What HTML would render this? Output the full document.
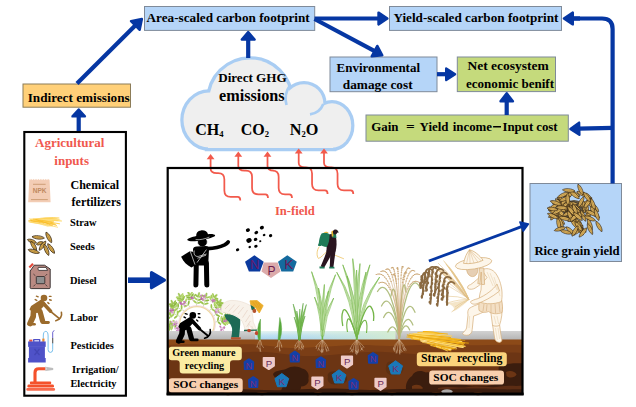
<!DOCTYPE html>
<html>
<head>
<meta charset="utf-8">
<title>Carbon footprint framework</title>
<style>
html,body{margin:0;padding:0;background:#fff;}
body{width:636px;height:407px;overflow:hidden;position:relative;font-family:"Liberation Serif",serif;}
svg{position:absolute;left:0;top:0;display:block;}
text{font-family:"Liberation Serif",serif;font-weight:bold;}
</style>
</head>
<body>
<svg width="636" height="407" viewBox="0 0 636 407">
<g id="boxes" stroke="#7f8a99" stroke-width="1">
<rect x="144.5" y="6.5" width="170.2" height="23.9" fill="#b5d5f8"/>
<rect x="389.5" y="6.5" width="172" height="23.9" fill="#b5d5f8"/>
<rect x="330" y="57" width="107" height="34.7" fill="#b5d5f8"/>
<rect x="457.3" y="57" width="98.2" height="34.6" fill="#c5da7c"/>
<rect x="366" y="115" width="202.3" height="26.2" fill="#c5da7c"/>
<rect x="23" y="84" width="107.5" height="23.2" fill="#ffd079" stroke="#8c7c58"/>
<rect x="530" y="183.5" width="91.5" height="78" fill="#b5d5f8"/>
</g>
<rect x="24.3" y="132" width="101.6" height="263.7" fill="#fff" stroke="#000" stroke-width="2.1"/>
<g id="cloud">
<g fill="#efefef" stroke="#a9cdf3" stroke-width="6.5"><circle cx="250" cy="100" r="40.6"/><ellipse cx="209.3" cy="120" rx="25.8" ry="27.6"/><circle cx="304" cy="103.5" r="19.3"/><ellipse cx="332" cy="125.5" rx="19.2" ry="22.3"/><rect x="208" y="112" width="125" height="36"/></g>
<g fill="#efefef" stroke="none"><circle cx="250" cy="100" r="40.6"/><ellipse cx="209.3" cy="120" rx="25.8" ry="27.6"/><circle cx="304" cy="103.5" r="19.3"/><ellipse cx="332" cy="125.5" rx="19.2" ry="22.3"/><rect x="208" y="112" width="125" height="36"/></g>
<path d="M290.5,84.5 C286.5,90 284.5,98 286.5,105" fill="none" stroke="#a9cdf3" stroke-width="2.7"/>
<path d="M323.3,104 C321,110 316,113.5 310,114.3" fill="none" stroke="#a9cdf3" stroke-width="2.7"/>
</g>
<g id="field">
<rect x="168" y="168" width="354.5" height="226" fill="#fff"/>
<defs><linearGradient id="wg" x1="0" y1="0" x2="0" y2="1"><stop offset="0" stop-color="#eaf6f1"/><stop offset="0.45" stop-color="#c4e3f3"/><stop offset="1" stop-color="#a6d2ef"/></linearGradient><linearGradient id="wh" x1="0" y1="0" x2="1" y2="0"><stop offset="0" stop-color="#a9d3f0" stop-opacity="0"/><stop offset="0.45" stop-color="#c8e6d8" stop-opacity="0.35"/><stop offset="1" stop-color="#d4ecd0" stop-opacity="0.95"/></linearGradient><linearGradient id="gg" x1="0" y1="0" x2="0" y2="1"><stop offset="0" stop-color="#d2d2d2"/><stop offset="1" stop-color="#b4b4b4"/></linearGradient></defs>
<rect x="168" y="331" width="88" height="9" fill="url(#gg)"/>
<rect x="255" y="331" width="141" height="9" fill="url(#wg)"/>
<rect x="255" y="331" width="141" height="9" fill="url(#wh)"/>
<rect x="395.5" y="331" width="127" height="9" fill="url(#gg)"/>
<g id="soil">
<rect x="168" y="339.5" width="354.5" height="55" fill="#8c4a18"/>
<path d="M168,345 C190,343 215,346 240,344.5 C262,343 280,349 300,348 C330,347 350,344 375,345.5 C400,347 420,344 450,345 C480,346 500,344 522.5,345 V394.5 H168 Z" fill="#7b3e16"/>
<path d="M168,352 C200,350 225,354 250,352 C275,350 290,357 315,356 C340,355 360,351 385,352 C410,353 430,357 460,355 C490,353 505,352 522.5,353 V394.5 H168 Z" fill="#6c3514"/>
<path d="M273,374 C276,369.6 283,371 287,368.6 C291,365.6 299,366 302,368.6 C307,369.6 309.6,374 308.4,378.6 C309.6,383 306,386.6 301,386.4 C301.6,390 297,393 292,392 C288,393.6 283,393 281,390.6 C282,388 284,386 283,383 C280,380 274,379 273,374 Z" fill="#3b1d0e"/>
<path d="M168,380.6 C176,378.6 184,381 186.6,385.6 C190,389 186,394.5 180,394.5 H168 Z" fill="#3b1d0e"/>
<path d="M408,394.5 C404,388 406,380 412,376 C414,371 421,369.6 426,372.6 C431,371 436,374 436,379 C441,380 446,384 452,383.6 C460,383 466,386 474,385.6 C482,385 488,386.6 494,384.6 C498,380 499,373 498.6,368 C499,364 504,362.6 508,364 C513,362.6 518,363.6 522.5,363 V394.5 Z" fill="#3b1d0e"/>
<path d="M412,386 C416,383.6 421,384.6 423,388 C421,391.6 415,392 412,389.6 Z" fill="#6c3514"/>
<path d="M438,388 C448,385.6 458,388.6 468,387 C480,385 490,388.6 500,386.6 C508,385 516,386.6 522.5,385.6 V391.6 C510,392.6 500,391 488,392 C470,393 455,391 438,392 Z" fill="#5c2d14"/>
<path d="M506,372 C510,370 515,371 516.6,374.6 C515,378 509,378.6 506.6,376 Z" fill="#6c3514"/>
<path d="M330,372 C336,370 344,372 346,376 C350,380 344,385 338,384 C332,386 326,382 328,377 C327,375 328,373 330,372 Z" fill="#572c12"/>
<path d="M388,362 C394,360 402,362 403,367 C405,372 399,376 393,375 C388,376 385,371 386,367 C386,365 387,363 388,362 Z" fill="#5e3013"/>
<path d="M168,389.5 C185,388 200,391 220,389.5 C240,388 262,391 285,390 C310,389 330,387.5 355,389.5 C380,391 400,388 425,389 C450,390 470,387.5 495,389 C508,389.8 516,389 522.5,389.5 V394.5 H168 Z" fill="#3b1d0e"/>
<ellipse cx="228" cy="393.6" rx="5.0" ry="1.7" fill="#7b3e16"/>
<ellipse cx="262" cy="393.6" rx="6.0" ry="1.7" fill="#7b3e16"/>
<ellipse cx="318" cy="393.6" rx="4.5" ry="1.7" fill="#7b3e16"/>
<ellipse cx="352" cy="393.6" rx="7.0" ry="1.7" fill="#7b3e16"/>
<ellipse cx="392" cy="393.6" rx="5.0" ry="1.7" fill="#7b3e16"/>
<ellipse cx="436" cy="393.6" rx="5.0" ry="1.7" fill="#7b3e16"/>
<ellipse cx="478" cy="393.6" rx="5.0" ry="1.7" fill="#7b3e16"/>
<ellipse cx="447" cy="391.6" rx="5.6" ry="2.4" fill="#b8b8b8" opacity="0.9"/>
</g>
<g id="roots">
<g fill="none" stroke="#dcc0a2" stroke-width="0.45" stroke-linecap="round"><path d="M260.0,339.5 Q258.0,343.7 256.8,347.1"/><path d="M257.4,346.4 l1.3,2.0"/><path d="M260.0,339.5 Q260.0,343.7 260.0,351.3"/><path d="M260.0,348.5 l0.8,3.1"/><path d="M260.0,339.5 Q262.0,343.7 261.7,344.7"/><path d="M261.8,345.2 l1.7,2.4"/></g>
<g fill="none" stroke="#dcc0a2" stroke-width="0.45" stroke-linecap="round"><path d="M279.0,339.5 Q277.0,343.4 277.4,346.9"/><path d="M277.2,346.1 l-2.2,1.7"/><path d="M279.0,339.5 Q279.0,343.4 279.7,351.2"/><path d="M279.3,348.3 l0.8,2.1"/><path d="M279.0,339.5 Q281.0,343.4 281.7,345.9"/><path d="M281.4,345.6 l0.4,1.8"/></g>
<g fill="none" stroke="#dcc0a2" stroke-width="0.45" stroke-linecap="round"><path d="M299.4,339.5 Q296.2,343.4 294.9,345.7"/><path d="M295.5,345.5 l-0.7,2.7"/><path d="M299.4,339.5 Q297.8,343.4 297.7,346.7"/><path d="M297.7,346.0 l-2.4,3.2"/><path d="M299.4,339.5 Q299.4,343.4 298.9,349.7"/><path d="M299.2,347.5 l2.5,2.4"/><path d="M299.4,339.5 Q301.0,343.4 302.1,348.0"/><path d="M301.5,346.7 l0.7,1.8"/><path d="M299.4,339.5 Q302.6,343.4 303.7,346.7"/><path d="M303.1,346.0 l0.1,3.0"/></g>
<g fill="none" stroke="#dcc0a2" stroke-width="0.45" stroke-linecap="round"><path d="M322.4,339.5 Q317.6,344.8 315.9,346.6"/><path d="M316.7,346.7 l-0.5,1.8"/><path d="M322.4,339.5 Q319.5,344.8 317.9,350.2"/><path d="M318.7,348.5 l2.1,3.1"/><path d="M322.4,339.5 Q321.4,344.8 321.7,352.3"/><path d="M321.6,349.5 l0.2,2.1"/><path d="M322.4,339.5 Q323.4,344.8 322.9,352.0"/><path d="M323.2,349.4 l-1.4,3.4"/><path d="M322.4,339.5 Q325.3,344.8 326.7,351.4"/><path d="M326.0,349.1 l1.5,1.9"/><path d="M322.4,339.5 Q327.2,344.8 328.0,348.1"/><path d="M327.6,347.4 l1.2,3.2"/></g>
<g fill="none" stroke="#dcc0a2" stroke-width="0.45" stroke-linecap="round"><path d="M356.8,339.5 Q351.2,345.1 350.0,349.0"/><path d="M350.6,348.1 l1.5,3.4"/><path d="M356.8,339.5 Q353.1,345.1 352.6,352.0"/><path d="M352.8,349.5 l-2.4,2.4"/><path d="M356.8,339.5 Q354.9,345.1 355.4,353.5"/><path d="M355.1,350.3 l2.0,1.7"/><path d="M356.8,339.5 Q356.8,345.1 356.7,354.7"/><path d="M356.8,350.9 l0.2,2.6"/><path d="M356.8,339.5 Q358.7,345.1 358.2,352.3"/><path d="M358.4,349.7 l-1.1,3.3"/><path d="M356.8,339.5 Q360.5,345.1 362.0,349.7"/><path d="M361.3,348.4 l1.5,1.8"/><path d="M356.8,339.5 Q362.4,345.1 364.0,347.2"/><path d="M363.2,347.1 l-2.5,3.2"/></g>
<g fill="none" stroke="#dcc0a2" stroke-width="0.45" stroke-linecap="round"><path d="M399.3,339.5 Q394.1,344.8 393.4,348.7"/><path d="M393.7,347.7 l-0.1,2.0"/><path d="M399.3,339.5 Q395.8,344.8 394.0,350.5"/><path d="M394.9,348.6 l-0.1,3.0"/><path d="M399.3,339.5 Q397.6,344.8 396.9,353.1"/><path d="M397.2,349.9 l-1.1,3.1"/><path d="M399.3,339.5 Q399.3,344.8 399.8,354.2"/><path d="M399.5,350.5 l0.2,2.9"/><path d="M399.3,339.5 Q401.0,344.8 400.9,352.4"/><path d="M400.9,349.6 l1.5,2.0"/><path d="M399.3,339.5 Q402.8,344.8 404.2,350.6"/><path d="M403.5,348.7 l1.7,2.2"/><path d="M399.3,339.5 Q404.5,344.8 405.0,348.7"/><path d="M404.7,347.7 l1.5,2.4"/></g>
</g>
<g id="plants">
<path d="M260.3,340.0 Q260.6,329.5 260.5,319.0 Q255.7,329.3 258.5,340.0 Z" fill="#58ab3c" stroke="#4f9a33" stroke-width="0.4" stroke-linejoin="round"/>
<path d="M279.9,340.0 Q283.5,328.8 279.8,317.4 Q278.5,328.7 278.1,340.0 Z" fill="#58ab3c" stroke="#4f9a33" stroke-width="0.4" stroke-linejoin="round"/>
<path d="M299.9,339.9 Q299.8,321.4 293.2,304.0 Q297.1,321.9 298.9,340.1 Z" fill="#8cc860" stroke="#4f9a33" stroke-width="0.45" stroke-linejoin="round"/>
<path d="M299.9,340.1 Q302.1,322.1 306.4,304.5 Q299.4,321.6 298.9,339.9 Z" fill="#8cc860" stroke="#4f9a33" stroke-width="0.45" stroke-linejoin="round"/>
<path d="M299.8,340.0 Q300.5,325.3 296.8,311.0 Q298.1,325.5 299.0,340.0 Z" fill="#8cc860" stroke="#4f9a33" stroke-width="0.45" stroke-linejoin="round"/>
<path d="M299.9,340.0 Q301.6,321.6 303.2,303.2 Q299.0,321.4 298.9,340.0 Z" fill="#8cc860" stroke="#4f9a33" stroke-width="0.45" stroke-linejoin="round"/>
<path d="M299.8,340.0 Q300.8,324.5 299.8,309.0 Q298.4,324.5 299.0,340.0 Z" fill="#8cc860" stroke="#4f9a33" stroke-width="0.45" stroke-linejoin="round"/>
<path d="M299.8,339.9 Q299.8,327.8 294.2,317.0 Q297.7,328.3 299.0,340.1 Z" fill="#8cc860" stroke="#4f9a33" stroke-width="0.45" stroke-linejoin="round"/>
<path d="M299.8,340.1 Q301.3,327.8 305.0,316.0 Q299.2,327.3 299.0,339.9 Z" fill="#8cc860" stroke="#4f9a33" stroke-width="0.45" stroke-linejoin="round"/>
<path d="M322.4,340 V318" stroke="#74b548" stroke-width="1.6" fill="none"/>
<path d="M322.8,331.9 Q324.5,300.5 311.6,271.7 Q320.0,301.3 321.2,332.1 Z" fill="#e2f1d0" stroke="#74b548" stroke-width="0.55" stroke-linejoin="round"/><path d="M322.0,332.0 Q322.2,300.9 311.6,271.7" fill="none" stroke="#74b548" stroke-width="0.4"/>
<path d="M323.6,332.2 Q326.0,302.7 335.5,274.7 Q321.5,301.7 322.0,331.8 Z" fill="#e2f1d0" stroke="#74b548" stroke-width="0.55" stroke-linejoin="round"/><path d="M322.8,332.0 Q323.8,302.2 335.5,274.7" fill="none" stroke="#74b548" stroke-width="0.4"/>
<path d="M323.0,326.0 Q324.4,305.3 324.4,284.5 Q320.8,305.1 321.8,326.0 Z" fill="#e2f1d0" stroke="#74b548" stroke-width="0.55" stroke-linejoin="round"/><path d="M322.4,326.0 Q322.6,305.2 324.4,284.5" fill="none" stroke="#74b548" stroke-width="0.4"/>
<path d="M322.4,335.9 Q324.2,315.4 314.5,297.0 Q320.9,316.0 321.2,336.1 Z" fill="#e2f1d0" stroke="#74b548" stroke-width="0.55" stroke-linejoin="round"/><path d="M321.8,336.0 Q322.6,315.7 314.5,297.0" fill="none" stroke="#74b548" stroke-width="0.4"/>
<path d="M323.6,336.2 Q325.7,316.2 333.7,298.0 Q322.4,315.3 322.4,335.8 Z" fill="#e2f1d0" stroke="#74b548" stroke-width="0.55" stroke-linejoin="round"/><path d="M323.0,336.0 Q324.0,315.8 333.7,298.0" fill="none" stroke="#74b548" stroke-width="0.4"/>
<path d="M322.7,330.0 Q324.0,308.7 318.5,288.0 Q321.0,308.9 321.7,330.0 Z" fill="#e2f1d0" stroke="#74b548" stroke-width="0.55" stroke-linejoin="round"/><path d="M322.2,330.0 Q322.5,308.8 318.5,288.0" fill="none" stroke="#74b548" stroke-width="0.4"/>
<path d="M323.1,330.1 Q324.9,310.4 328.5,291.0 Q321.9,309.9 322.1,329.9 Z" fill="#e2f1d0" stroke="#74b548" stroke-width="0.55" stroke-linejoin="round"/><path d="M322.6,330.0 Q323.4,310.2 328.5,291.0" fill="none" stroke="#74b548" stroke-width="0.4"/>
<path d="M356.8,340 V312" stroke="#74b548" stroke-width="2" fill="none"/>
<path d="M356.5,329.9 Q357.2,295.8 342.8,264.8 Q353.1,296.6 355.1,330.1 Z" fill="#e2f1d0" stroke="#74b548" stroke-width="0.55" stroke-linejoin="round"/><path d="M355.8,330.0 Q355.2,296.2 342.8,264.8" fill="none" stroke="#74b548" stroke-width="0.4"/>
<path d="M357.1,324.0 Q358.5,291.1 352.7,258.7 Q354.5,291.4 355.7,324.0 Z" fill="#e2f1d0" stroke="#74b548" stroke-width="0.55" stroke-linejoin="round"/><path d="M356.4,324.0 Q356.5,291.2 352.7,258.7" fill="none" stroke="#74b548" stroke-width="0.4"/>
<path d="M357.9,324.0 Q359.1,293.8 360.0,263.6 Q355.1,293.6 356.5,324.0 Z" fill="#e2f1d0" stroke="#74b548" stroke-width="0.55" stroke-linejoin="round"/><path d="M357.2,324.0 Q357.1,293.7 360.0,263.6" fill="none" stroke="#74b548" stroke-width="0.4"/>
<path d="M358.5,330.1 Q361.0,296.9 369.9,264.8 Q356.9,296.1 357.1,329.9 Z" fill="#e2f1d0" stroke="#74b548" stroke-width="0.55" stroke-linejoin="round"/><path d="M357.8,330.0 Q358.9,296.5 369.9,264.8" fill="none" stroke="#74b548" stroke-width="0.4"/>
<path d="M358.6,334.2 Q363.1,303.3 379.7,277.0 Q359.6,302.0 357.4,333.8 Z" fill="#e2f1d0" stroke="#74b548" stroke-width="0.55" stroke-linejoin="round"/><path d="M358.0,334.0 Q361.4,302.7 379.7,277.0" fill="none" stroke="#74b548" stroke-width="0.4"/>
<path d="M356.2,333.8 Q355.6,300.2 336.7,272.2 Q352.0,301.3 355.0,334.2 Z" fill="#e2f1d0" stroke="#74b548" stroke-width="0.55" stroke-linejoin="round"/><path d="M355.6,334.0 Q353.8,300.8 336.7,272.2" fill="none" stroke="#74b548" stroke-width="0.4"/>
<path d="M356.8,327.9 Q356.7,301.1 347.0,276.0 Q353.4,301.7 355.6,328.1 Z" fill="#e2f1d0" stroke="#74b548" stroke-width="0.55" stroke-linejoin="round"/><path d="M356.2,328.0 Q355.0,301.4 347.0,276.0" fill="none" stroke="#74b548" stroke-width="0.4"/>
<path d="M358.0,328.1 Q360.4,299.8 366.0,272.0 Q357.1,299.3 356.8,327.9 Z" fill="#e2f1d0" stroke="#74b548" stroke-width="0.55" stroke-linejoin="round"/><path d="M357.4,328.0 Q358.7,299.5 366.0,272.0" fill="none" stroke="#74b548" stroke-width="0.4"/>
<path d="M357.4,322.0 Q358.3,296.0 356.6,270.0 Q355.1,296.0 356.2,322.0 Z" fill="#e2f1d0" stroke="#74b548" stroke-width="0.55" stroke-linejoin="round"/><path d="M356.8,322.0 Q356.7,296.0 356.6,270.0" fill="none" stroke="#74b548" stroke-width="0.4"/>
<path d="M356.8,338 C350,315 345,306 343,311 C341,316 342,322 342.8,326" fill="none" stroke="#74b548" stroke-width="1.3"/>
<path d="M356.8,338 C362,314 368,303 371,307 C374,311 374,317 373.5,321" fill="none" stroke="#74b548" stroke-width="1.3"/>
<path d="M356.8,338 C352,322 349,316 347.5,320 C346,324 347,329 347.5,332" fill="none" stroke="#74b548" stroke-width="1.1"/>
<path d="M356.8,338 C360,324 364,318 366,321 C367.5,324 367,329 366.5,333" fill="none" stroke="#74b548" stroke-width="1.1"/>
<path d="M399.3,339 C397.2,318.1 389.5,289.5 381.5,306" fill="none" stroke="#b2bf82" stroke-width="1.3" stroke-linecap="round"/>
<path d="M399.3,339 C397.4,324.2 390.7,302.5 383.6,317.5" fill="none" stroke="#b2bf82" stroke-width="1.3" stroke-linecap="round"/>
<path d="M399.3,339 C397.9,332.3 393.0,320.0 387.8,332" fill="none" stroke="#b2bf82" stroke-width="1.3" stroke-linecap="round"/>
<path d="M399.3,339 C401.2,320.8 407.9,294.3 415,312.3" fill="none" stroke="#b2bf82" stroke-width="1.3" stroke-linecap="round"/>
<path d="M399.3,339 C400.9,328.0 406.8,310.0 412.9,325" fill="none" stroke="#b2bf82" stroke-width="1.3" stroke-linecap="round"/>
<path d="M399.3,339 C400.5,331.7 405.0,319.5 409.7,330" fill="none" stroke="#b2bf82" stroke-width="1.3" stroke-linecap="round"/>
<path d="M399.3,339 C398.3,311.5 394.7,273.5 391,296" fill="none" stroke="#b2bf82" stroke-width="1.3" stroke-linecap="round"/>
<path d="M399.3,339 C400.1,309.1 403.0,268.0 406,292" fill="none" stroke="#b2bf82" stroke-width="1.3" stroke-linecap="round"/>
<path d="M399.3,339 C396.7,310.9 387.3,275.0 377.5,291.5" fill="none" stroke="#b2bf82" stroke-width="1.3" stroke-linecap="round"/>
<path d="M399.3,339 C401.8,308.4 410.7,269.5 420,287.5" fill="none" stroke="#b2bf82" stroke-width="1.3" stroke-linecap="round"/>
<path d="M399.3,339 C399.2,305.0 398.4,261.5 397.2,268.4" fill="none" stroke="#cba776" stroke-width="0.55"/>
<ellipse cx="398.4" cy="279.1" rx="0.8" ry="0.5" fill="#cba776"/>
<ellipse cx="398.2" cy="276.0" rx="0.8" ry="0.5" fill="#cba776"/>
<ellipse cx="398.1" cy="273.4" rx="0.8" ry="0.5" fill="#cba776"/>
<ellipse cx="398.0" cy="271.2" rx="0.8" ry="0.5" fill="#cba776"/>
<ellipse cx="397.8" cy="269.5" rx="0.8" ry="0.5" fill="#cba776"/>
<ellipse cx="397.7" cy="268.3" rx="0.8" ry="0.5" fill="#cba776"/>
<ellipse cx="397.5" cy="267.7" rx="0.8" ry="0.5" fill="#cba776"/>
<ellipse cx="397.4" cy="267.8" rx="0.8" ry="0.5" fill="#cba776"/>
<ellipse cx="397.2" cy="268.4" rx="0.8" ry="0.5" fill="#cba776"/>
<path d="M399.3,339 C399.8,305.0 404.0,262.1 409.7,268.6" fill="none" stroke="#cba776" stroke-width="0.55"/>
<ellipse cx="404.0" cy="279.4" rx="0.8" ry="0.5" fill="#cba776"/>
<ellipse cx="404.6" cy="276.4" rx="0.8" ry="0.5" fill="#cba776"/>
<ellipse cx="405.2" cy="273.7" rx="0.8" ry="0.5" fill="#cba776"/>
<ellipse cx="405.9" cy="271.6" rx="0.8" ry="0.5" fill="#cba776"/>
<ellipse cx="406.6" cy="269.9" rx="0.8" ry="0.5" fill="#cba776"/>
<ellipse cx="407.4" cy="268.7" rx="0.8" ry="0.5" fill="#cba776"/>
<ellipse cx="408.1" cy="268.0" rx="0.8" ry="0.5" fill="#cba776"/>
<ellipse cx="408.9" cy="268.0" rx="0.8" ry="0.5" fill="#cba776"/>
<ellipse cx="409.7" cy="268.6" rx="0.8" ry="0.5" fill="#cba776"/>
<path d="M399.3,339 C400.3,305.0 408.3,268.6 419.2,274.6" fill="none" stroke="#cba776" stroke-width="0.55"/>
<ellipse cx="408.2" cy="283.7" rx="0.8" ry="0.5" fill="#cba776"/>
<ellipse cx="409.4" cy="281.0" rx="0.8" ry="0.5" fill="#cba776"/>
<ellipse cx="410.7" cy="278.8" rx="0.8" ry="0.5" fill="#cba776"/>
<ellipse cx="412.0" cy="276.9" rx="0.8" ry="0.5" fill="#cba776"/>
<ellipse cx="413.3" cy="275.5" rx="0.8" ry="0.5" fill="#cba776"/>
<ellipse cx="414.7" cy="274.5" rx="0.8" ry="0.5" fill="#cba776"/>
<ellipse cx="416.2" cy="274.0" rx="0.8" ry="0.5" fill="#cba776"/>
<ellipse cx="417.7" cy="274.0" rx="0.8" ry="0.5" fill="#cba776"/>
<ellipse cx="419.2" cy="274.6" rx="0.8" ry="0.5" fill="#cba776"/>
<path d="M399.3,339 C398.2,305.0 388.9,268.8 376.3,274.6" fill="none" stroke="#cba776" stroke-width="0.55"/>
<ellipse cx="389.0" cy="283.7" rx="0.8" ry="0.5" fill="#cba776"/>
<ellipse cx="387.6" cy="281.1" rx="0.8" ry="0.5" fill="#cba776"/>
<ellipse cx="386.2" cy="278.8" rx="0.8" ry="0.5" fill="#cba776"/>
<ellipse cx="384.7" cy="277.0" rx="0.8" ry="0.5" fill="#cba776"/>
<ellipse cx="383.1" cy="275.5" rx="0.8" ry="0.5" fill="#cba776"/>
<ellipse cx="381.5" cy="274.5" rx="0.8" ry="0.5" fill="#cba776"/>
<ellipse cx="379.8" cy="274.0" rx="0.8" ry="0.5" fill="#cba776"/>
<ellipse cx="378.1" cy="274.0" rx="0.8" ry="0.5" fill="#cba776"/>
<ellipse cx="376.3" cy="274.6" rx="0.8" ry="0.5" fill="#cba776"/>
<path d="M399.3,339 C398.6,305.0 393.3,263.2 386,269.5" fill="none" stroke="#cba776" stroke-width="0.55"/>
<ellipse cx="393.3" cy="280.1" rx="0.8" ry="0.5" fill="#cba776"/>
<ellipse cx="392.5" cy="277.1" rx="0.8" ry="0.5" fill="#cba776"/>
<ellipse cx="391.7" cy="274.5" rx="0.8" ry="0.5" fill="#cba776"/>
<ellipse cx="390.8" cy="272.4" rx="0.8" ry="0.5" fill="#cba776"/>
<ellipse cx="389.9" cy="270.7" rx="0.8" ry="0.5" fill="#cba776"/>
<ellipse cx="389.0" cy="269.6" rx="0.8" ry="0.5" fill="#cba776"/>
<ellipse cx="388.0" cy="269.0" rx="0.8" ry="0.5" fill="#cba776"/>
<ellipse cx="387.0" cy="268.9" rx="0.8" ry="0.5" fill="#cba776"/>
<ellipse cx="386.0" cy="269.5" rx="0.8" ry="0.5" fill="#cba776"/>
<path d="M399.3,339 C399.5,305.0 401.0,260.2 403,267" fill="none" stroke="#cba776" stroke-width="0.55"/>
<ellipse cx="401.0" cy="278.2" rx="0.8" ry="0.5" fill="#cba776"/>
<ellipse cx="401.2" cy="275.0" rx="0.8" ry="0.5" fill="#cba776"/>
<ellipse cx="401.4" cy="272.3" rx="0.8" ry="0.5" fill="#cba776"/>
<ellipse cx="401.7" cy="270.0" rx="0.8" ry="0.5" fill="#cba776"/>
<ellipse cx="401.9" cy="268.3" rx="0.8" ry="0.5" fill="#cba776"/>
<ellipse cx="402.2" cy="267.1" rx="0.8" ry="0.5" fill="#cba776"/>
<ellipse cx="402.4" cy="266.4" rx="0.8" ry="0.5" fill="#cba776"/>
<ellipse cx="402.7" cy="266.4" rx="0.8" ry="0.5" fill="#cba776"/>
<ellipse cx="403.0" cy="267.0" rx="0.8" ry="0.5" fill="#cba776"/>
<path d="M399.3,339 C398.9,305.0 395.8,261.4 391.5,268" fill="none" stroke="#cba776" stroke-width="0.55"/>
<ellipse cx="395.8" cy="278.9" rx="0.8" ry="0.5" fill="#cba776"/>
<ellipse cx="395.3" cy="275.9" rx="0.8" ry="0.5" fill="#cba776"/>
<ellipse cx="394.8" cy="273.2" rx="0.8" ry="0.5" fill="#cba776"/>
<ellipse cx="394.3" cy="271.0" rx="0.8" ry="0.5" fill="#cba776"/>
<ellipse cx="393.8" cy="269.3" rx="0.8" ry="0.5" fill="#cba776"/>
<ellipse cx="393.3" cy="268.1" rx="0.8" ry="0.5" fill="#cba776"/>
<ellipse cx="392.7" cy="267.4" rx="0.8" ry="0.5" fill="#cba776"/>
<ellipse cx="392.1" cy="267.4" rx="0.8" ry="0.5" fill="#cba776"/>
<ellipse cx="391.5" cy="268.0" rx="0.8" ry="0.5" fill="#cba776"/>
<path d="M399.3,339 C400.1,305.0 406.1,264.8 414.5,271" fill="none" stroke="#cba776" stroke-width="0.55"/>
<ellipse cx="406.1" cy="281.1" rx="0.8" ry="0.5" fill="#cba776"/>
<ellipse cx="407.0" cy="278.3" rx="0.8" ry="0.5" fill="#cba776"/>
<ellipse cx="408.0" cy="275.8" rx="0.8" ry="0.5" fill="#cba776"/>
<ellipse cx="409.0" cy="273.7" rx="0.8" ry="0.5" fill="#cba776"/>
<ellipse cx="410.0" cy="272.1" rx="0.8" ry="0.5" fill="#cba776"/>
<ellipse cx="411.1" cy="271.0" rx="0.8" ry="0.5" fill="#cba776"/>
<ellipse cx="412.2" cy="270.4" rx="0.8" ry="0.5" fill="#cba776"/>
<ellipse cx="413.3" cy="270.4" rx="0.8" ry="0.5" fill="#cba776"/>
<ellipse cx="414.5" cy="271.0" rx="0.8" ry="0.5" fill="#cba776"/>
<path d="M399.3,339 C398.4,305.0 391.1,265.4 381,271.5" fill="none" stroke="#cba776" stroke-width="0.55"/>
<ellipse cx="391.1" cy="281.5" rx="0.8" ry="0.5" fill="#cba776"/>
<ellipse cx="390.0" cy="278.7" rx="0.8" ry="0.5" fill="#cba776"/>
<ellipse cx="388.9" cy="276.2" rx="0.8" ry="0.5" fill="#cba776"/>
<ellipse cx="387.7" cy="274.2" rx="0.8" ry="0.5" fill="#cba776"/>
<ellipse cx="386.4" cy="272.6" rx="0.8" ry="0.5" fill="#cba776"/>
<ellipse cx="385.1" cy="271.5" rx="0.8" ry="0.5" fill="#cba776"/>
<ellipse cx="383.8" cy="271.0" rx="0.8" ry="0.5" fill="#cba776"/>
<ellipse cx="382.4" cy="270.9" rx="0.8" ry="0.5" fill="#cba776"/>
<ellipse cx="381.0" cy="271.5" rx="0.8" ry="0.5" fill="#cba776"/>
<path d="M399.3,339 C398.3,305.0 390.2,277.0 379,283" fill="none" stroke="#cba776" stroke-width="0.55"/>
<ellipse cx="390.2" cy="289.4" rx="0.8" ry="0.5" fill="#cba776"/>
<ellipse cx="389.0" cy="287.3" rx="0.8" ry="0.5" fill="#cba776"/>
<ellipse cx="387.7" cy="285.5" rx="0.8" ry="0.5" fill="#cba776"/>
<ellipse cx="386.4" cy="284.1" rx="0.8" ry="0.5" fill="#cba776"/>
<ellipse cx="385.0" cy="283.1" rx="0.8" ry="0.5" fill="#cba776"/>
<ellipse cx="383.6" cy="282.4" rx="0.8" ry="0.5" fill="#cba776"/>
<ellipse cx="382.1" cy="282.2" rx="0.8" ry="0.5" fill="#cba776"/>
<ellipse cx="380.6" cy="282.4" rx="0.8" ry="0.5" fill="#cba776"/>
<ellipse cx="379.0" cy="283.0" rx="0.8" ry="0.5" fill="#cba776"/>
<path d="M399.3,339 C400.3,305.0 407.9,276.0 418.5,282" fill="none" stroke="#cba776" stroke-width="0.55"/>
<ellipse cx="407.9" cy="288.7" rx="0.8" ry="0.5" fill="#cba776"/>
<ellipse cx="409.1" cy="286.5" rx="0.8" ry="0.5" fill="#cba776"/>
<ellipse cx="410.3" cy="284.7" rx="0.8" ry="0.5" fill="#cba776"/>
<ellipse cx="411.5" cy="283.2" rx="0.8" ry="0.5" fill="#cba776"/>
<ellipse cx="412.8" cy="282.1" rx="0.8" ry="0.5" fill="#cba776"/>
<ellipse cx="414.2" cy="281.5" rx="0.8" ry="0.5" fill="#cba776"/>
<ellipse cx="415.6" cy="281.2" rx="0.8" ry="0.5" fill="#cba776"/>
<ellipse cx="417.0" cy="281.4" rx="0.8" ry="0.5" fill="#cba776"/>
<ellipse cx="418.5" cy="282.0" rx="0.8" ry="0.5" fill="#cba776"/>
<path d="M399.3,339 C399.7,305.0 402.5,266.4 406.5,273" fill="none" stroke="#cba776" stroke-width="0.55"/>
<ellipse cx="402.5" cy="282.3" rx="0.8" ry="0.5" fill="#cba776"/>
<ellipse cx="403.0" cy="279.6" rx="0.8" ry="0.5" fill="#cba776"/>
<ellipse cx="403.4" cy="277.2" rx="0.8" ry="0.5" fill="#cba776"/>
<ellipse cx="403.9" cy="275.3" rx="0.8" ry="0.5" fill="#cba776"/>
<ellipse cx="404.4" cy="273.8" rx="0.8" ry="0.5" fill="#cba776"/>
<ellipse cx="404.9" cy="272.8" rx="0.8" ry="0.5" fill="#cba776"/>
<ellipse cx="405.4" cy="272.3" rx="0.8" ry="0.5" fill="#cba776"/>
<ellipse cx="405.9" cy="272.4" rx="0.8" ry="0.5" fill="#cba776"/>
<ellipse cx="406.5" cy="273.0" rx="0.8" ry="0.5" fill="#cba776"/>
<path d="M399.3,339 C399.0,305.0 396.5,268.3 393,275" fill="none" stroke="#cba776" stroke-width="0.55"/>
<ellipse cx="396.5" cy="283.6" rx="0.8" ry="0.5" fill="#cba776"/>
<ellipse cx="396.1" cy="281.0" rx="0.8" ry="0.5" fill="#cba776"/>
<ellipse cx="395.7" cy="278.8" rx="0.8" ry="0.5" fill="#cba776"/>
<ellipse cx="395.3" cy="277.0" rx="0.8" ry="0.5" fill="#cba776"/>
<ellipse cx="394.9" cy="275.6" rx="0.8" ry="0.5" fill="#cba776"/>
<ellipse cx="394.4" cy="274.7" rx="0.8" ry="0.5" fill="#cba776"/>
<ellipse cx="394.0" cy="274.2" rx="0.8" ry="0.5" fill="#cba776"/>
<ellipse cx="393.5" cy="274.3" rx="0.8" ry="0.5" fill="#cba776"/>
<ellipse cx="393.0" cy="275.0" rx="0.8" ry="0.5" fill="#cba776"/>
</g>
<g id="gstraw" fill="none" stroke-linecap="round">
<path d="M425.0,331.5 Q429.5,330.6 434.0,332.7" stroke="#fee39a" stroke-width="0.94"/>
<path d="M423.3,331.6 Q431.6,331.1 439.8,333.4" stroke="#f5b515" stroke-width="1.09"/>
<path d="M418.3,332.4 Q428.3,331.6 438.4,333.5" stroke="#f9b91e" stroke-width="0.70"/>
<path d="M419.3,332.8 Q430.1,332.0 440.8,333.9" stroke="#fdd45a" stroke-width="0.65"/>
<path d="M420.2,333.7 Q433.8,332.5 447.4,334.0" stroke="#f5b515" stroke-width="1.13"/>
<path d="M417.4,332.7 Q431.6,333.0 445.8,335.8" stroke="#fcc636" stroke-width="0.72"/>
<path d="M419.0,333.5 Q435.1,333.5 451.3,335.9" stroke="#fee39a" stroke-width="0.67"/>
<path d="M415.4,334.1 Q433.6,333.9 451.8,336.1" stroke="#fcc636" stroke-width="0.71"/>
<path d="M414.2,333.3 Q432.0,334.4 449.8,337.8" stroke="#fee39a" stroke-width="0.75"/>
<path d="M412.8,333.5 Q433.0,334.9 453.1,338.4" stroke="#fdd45a" stroke-width="0.83"/>
<path d="M413.2,335.3 Q431.8,335.4 450.5,337.5" stroke="#e8a40c" stroke-width="1.06"/>
<path d="M409.6,334.0 Q431.5,335.9 453.5,339.6" stroke="#f5b515" stroke-width="0.82"/>
<path d="M413.9,334.7 Q437.2,336.3 460.6,339.8" stroke="#fcc636" stroke-width="1.11"/>
<path d="M411.7,335.8 Q436.1,336.8 460.6,339.5" stroke="#f2ac0a" stroke-width="0.83"/>
<path d="M409.9,334.6 Q435.8,337.3 461.8,341.6" stroke="#fdd45a" stroke-width="1.12"/>
<path d="M408.2,336.3 Q432.8,337.8 457.5,340.7" stroke="#e8a40c" stroke-width="0.72"/>
<path d="M410.5,337.5 Q437.7,338.2 464.8,340.4" stroke="#f2ac0a" stroke-width="0.60"/>
<path d="M409.4,335.6 Q436.9,338.7 464.4,343.1" stroke="#f5b515" stroke-width="0.60"/>
<path d="M407.3,334.9 Q435.4,339.2 463.5,344.6" stroke="#e8a40c" stroke-width="1.05"/>
<path d="M406.8,337.1 Q434.7,339.7 462.7,343.3" stroke="#f5b515" stroke-width="1.03"/>
<path d="M410.8,338.3 Q437.5,340.2 464.3,343.0" stroke="#fcc636" stroke-width="0.93"/>
<path d="M411.4,339.0 Q439.9,340.6 468.4,343.1" stroke="#f2ac0a" stroke-width="0.80"/>
<path d="M411.1,336.5 Q438.0,341.1 464.9,346.5" stroke="#f9b91e" stroke-width="0.82"/>
<path d="M413.1,337.6 Q439.1,341.6 465.2,346.2" stroke="#fdd45a" stroke-width="1.09"/>
<path d="M413.2,337.8 Q438.4,342.1 463.7,346.9" stroke="#fdd45a" stroke-width="1.07"/>
<path d="M414.6,339.3 Q438.0,342.6 461.3,346.2" stroke="#f9b91e" stroke-width="0.77"/>
<path d="M419.4,338.9 Q440.8,343.0 462.2,347.4" stroke="#f2ac0a" stroke-width="0.73"/>
<path d="M420.5,339.8 Q441.7,343.5 463.0,347.5" stroke="#fee39a" stroke-width="0.98"/>
<path d="M420.9,341.2 Q440.6,344.0 460.3,346.9" stroke="#fdd45a" stroke-width="0.88"/>
<path d="M421.0,340.9 Q438.9,344.5 456.7,348.1" stroke="#fee39a" stroke-width="0.95"/>
<path d="M422.5,342.4 Q439.1,344.9 455.6,347.4" stroke="#fdd45a" stroke-width="0.76"/>
<path d="M427.8,341.6 Q442.0,345.4 456.1,349.1" stroke="#e8a40c" stroke-width="0.86"/>
<path d="M428.7,343.7 Q441.5,345.9 454.3,347.8" stroke="#fdd45a" stroke-width="0.72"/>
<path d="M427.2,343.3 Q440.2,346.4 453.2,349.1" stroke="#f9b91e" stroke-width="0.86"/>
<path d="M433.0,344.6 Q443.6,346.9 454.2,348.7" stroke="#e8a40c" stroke-width="0.98"/>
<path d="M430.8,345.4 Q440.7,347.3 450.7,348.7" stroke="#fcc636" stroke-width="1.01"/>
<path d="M435.6,345.2 Q441.8,347.8 448.0,349.7" stroke="#fcc636" stroke-width="0.58"/>
<path d="M434.1,346.4 Q442.8,348.3 451.5,349.4" stroke="#f5b515" stroke-width="0.80"/>
<path d="M436.6,346.7 Q443.8,348.8 450.9,349.9" stroke="#fee39a" stroke-width="1.09"/>
<path d="M437.5,347.5 Q442.6,349.2 447.7,350.0" stroke="#f5b515" stroke-width="0.96"/>
<path d="M441.2,347.5 Q446.0,349.7 450.8,350.9" stroke="#e8a40c" stroke-width="0.88"/>
<path d="M442.3,348.2 Q444.8,350.2 447.3,351.0" stroke="#fdd45a" stroke-width="0.80"/>
</g>
<g id="manure">
<clipPath id="manclip"><rect x="169" y="292" width="62" height="39"/></clipPath>
<g clip-path="url(#manclip)">
<path d="M178.0,322.7 L168.9,325.3" stroke="#8aa848" stroke-width="0.4" fill="none"/><ellipse cx="175.4" cy="325.8" rx="2.3" ry="0.93" transform="rotate(102 175.4 325.8)" fill="#8fba44"/><ellipse cx="174.2" cy="321.5" rx="2.3" ry="0.93" transform="rotate(226 174.2 321.5)" fill="#b4d66c"/><ellipse cx="172.4" cy="326.6" rx="2.3" ry="0.93" transform="rotate(102 172.4 326.6)" fill="#8fba44"/><ellipse cx="171.1" cy="322.4" rx="2.3" ry="0.93" transform="rotate(226 171.1 322.4)" fill="#9cc44e"/><ellipse cx="169.3" cy="327.5" rx="2.3" ry="0.93" transform="rotate(102 169.3 327.5)" fill="#8fba44"/><ellipse cx="168.1" cy="323.2" rx="2.3" ry="0.93" transform="rotate(226 168.1 323.2)" fill="#9cc44e"/><ellipse cx="167.2" cy="325.8" rx="2.3" ry="0.93" transform="rotate(164 167.2 325.8)" fill="#a6cc58" stroke="#86a640" stroke-width="0.2"/><path d="M180.1,316.5 L170.1,311.9" stroke="#8aa848" stroke-width="0.4" fill="none"/><ellipse cx="175.8" cy="317.0" rx="2.3" ry="0.93" transform="rotate(142 175.8 317.0)" fill="#9cc44e"/><ellipse cx="177.6" cy="312.9" rx="2.3" ry="0.93" transform="rotate(266 177.6 312.9)" fill="#a6cc58"/><ellipse cx="172.4" cy="315.5" rx="2.3" ry="0.93" transform="rotate(142 172.4 315.5)" fill="#a6cc58"/><ellipse cx="174.3" cy="311.4" rx="2.3" ry="0.93" transform="rotate(266 174.3 311.4)" fill="#b4d66c"/><ellipse cx="169.1" cy="313.9" rx="2.3" ry="0.93" transform="rotate(142 169.1 313.9)" fill="#8fba44"/><ellipse cx="170.9" cy="309.9" rx="2.3" ry="0.93" transform="rotate(266 170.9 309.9)" fill="#a6cc58"/><ellipse cx="168.4" cy="311.2" rx="2.3" ry="0.93" transform="rotate(204 168.4 311.2)" fill="#a6cc58" stroke="#86a640" stroke-width="0.2"/><path d="M184.1,310.7 L173.7,305.9" stroke="#8aa848" stroke-width="0.4" fill="none"/><ellipse cx="179.7" cy="311.1" rx="2.3" ry="0.93" transform="rotate(143 179.7 311.1)" fill="#9cc44e"/><ellipse cx="181.6" cy="307.0" rx="2.3" ry="0.93" transform="rotate(267 181.6 307.0)" fill="#9cc44e"/><ellipse cx="176.2" cy="309.5" rx="2.3" ry="0.93" transform="rotate(143 176.2 309.5)" fill="#a6cc58"/><ellipse cx="178.1" cy="305.4" rx="2.3" ry="0.93" transform="rotate(267 178.1 305.4)" fill="#8fba44"/><ellipse cx="172.7" cy="307.9" rx="2.3" ry="0.93" transform="rotate(143 172.7 307.9)" fill="#8fba44"/><ellipse cx="174.6" cy="303.8" rx="2.3" ry="0.93" transform="rotate(267 174.6 303.8)" fill="#8fba44"/><ellipse cx="172.0" cy="305.1" rx="2.3" ry="0.93" transform="rotate(205 172.0 305.1)" fill="#a6cc58" stroke="#86a640" stroke-width="0.2"/><path d="M190.1,306.8 L182.0,300.1" stroke="#8aa848" stroke-width="0.4" fill="none"/><ellipse cx="185.8" cy="306.2" rx="2.3" ry="0.93" transform="rotate(158 185.8 306.2)" fill="#b4d66c"/><ellipse cx="188.7" cy="302.8" rx="2.3" ry="0.93" transform="rotate(282 188.7 302.8)" fill="#8fba44"/><ellipse cx="183.2" cy="304.0" rx="2.3" ry="0.93" transform="rotate(158 183.2 304.0)" fill="#a6cc58"/><ellipse cx="186.0" cy="300.5" rx="2.3" ry="0.93" transform="rotate(282 186.0 300.5)" fill="#b4d66c"/><ellipse cx="180.5" cy="301.7" rx="2.3" ry="0.93" transform="rotate(158 180.5 301.7)" fill="#a6cc58"/><ellipse cx="183.4" cy="298.3" rx="2.3" ry="0.93" transform="rotate(282 183.4 298.3)" fill="#9cc44e"/><ellipse cx="180.6" cy="298.9" rx="2.3" ry="0.93" transform="rotate(220 180.6 298.9)" fill="#a6cc58" stroke="#86a640" stroke-width="0.2"/><path d="M196.4,305.5 L198.4,296.2" stroke="#8aa848" stroke-width="0.4" fill="none"/><ellipse cx="194.9" cy="301.7" rx="2.3" ry="0.93" transform="rotate(220 194.9 301.7)" fill="#a6cc58"/><ellipse cx="199.3" cy="302.7" rx="2.3" ry="0.93" transform="rotate(344 199.3 302.7)" fill="#a6cc58"/><ellipse cx="195.6" cy="298.6" rx="2.3" ry="0.93" transform="rotate(220 195.6 298.6)" fill="#a6cc58"/><ellipse cx="200.0" cy="299.6" rx="2.3" ry="0.93" transform="rotate(344 200.0 299.6)" fill="#8fba44"/><ellipse cx="196.3" cy="295.5" rx="2.3" ry="0.93" transform="rotate(220 196.3 295.5)" fill="#9cc44e"/><ellipse cx="200.6" cy="296.5" rx="2.3" ry="0.93" transform="rotate(344 200.6 296.5)" fill="#b4d66c"/><ellipse cx="198.8" cy="294.4" rx="2.3" ry="0.93" transform="rotate(282 198.8 294.4)" fill="#a6cc58" stroke="#86a640" stroke-width="0.2"/><path d="M203.3,306.6 L205.8,296.9" stroke="#8aa848" stroke-width="0.4" fill="none"/><ellipse cx="202.0" cy="302.7" rx="2.3" ry="0.93" transform="rotate(222 202.0 302.7)" fill="#9cc44e"/><ellipse cx="206.4" cy="303.7" rx="2.3" ry="0.93" transform="rotate(346 206.4 303.7)" fill="#9cc44e"/><ellipse cx="202.8" cy="299.4" rx="2.3" ry="0.93" transform="rotate(222 202.8 299.4)" fill="#a6cc58"/><ellipse cx="207.2" cy="300.5" rx="2.3" ry="0.93" transform="rotate(346 207.2 300.5)" fill="#8fba44"/><ellipse cx="203.6" cy="296.2" rx="2.3" ry="0.93" transform="rotate(222 203.6 296.2)" fill="#9cc44e"/><ellipse cx="208.0" cy="297.3" rx="2.3" ry="0.93" transform="rotate(346 208.0 297.3)" fill="#a6cc58"/><ellipse cx="206.2" cy="295.1" rx="2.3" ry="0.93" transform="rotate(284 206.2 295.1)" fill="#a6cc58" stroke="#86a640" stroke-width="0.2"/><path d="M209.4,310.3 L218.8,304.6" stroke="#8aa848" stroke-width="0.4" fill="none"/><ellipse cx="211.4" cy="306.4" rx="2.3" ry="0.93" transform="rotate(267 211.4 306.4)" fill="#9cc44e"/><ellipse cx="213.7" cy="310.2" rx="2.3" ry="0.93" transform="rotate(391 213.7 310.2)" fill="#a6cc58"/><ellipse cx="214.6" cy="304.5" rx="2.3" ry="0.93" transform="rotate(267 214.6 304.5)" fill="#a6cc58"/><ellipse cx="216.9" cy="308.3" rx="2.3" ry="0.93" transform="rotate(391 216.9 308.3)" fill="#8fba44"/><ellipse cx="217.7" cy="302.6" rx="2.3" ry="0.93" transform="rotate(267 217.7 302.6)" fill="#8fba44"/><ellipse cx="220.0" cy="306.4" rx="2.3" ry="0.93" transform="rotate(391 220.0 306.4)" fill="#9cc44e"/><ellipse cx="220.4" cy="303.6" rx="2.3" ry="0.93" transform="rotate(329 220.4 303.6)" fill="#a6cc58" stroke="#86a640" stroke-width="0.2"/><path d="M213.6,315.9 L222.6,309.5" stroke="#8aa848" stroke-width="0.4" fill="none"/><ellipse cx="215.4" cy="311.9" rx="2.3" ry="0.93" transform="rotate(262 215.4 311.9)" fill="#9cc44e"/><ellipse cx="218.0" cy="315.5" rx="2.3" ry="0.93" transform="rotate(386 218.0 315.5)" fill="#8fba44"/><ellipse cx="218.4" cy="309.8" rx="2.3" ry="0.93" transform="rotate(262 218.4 309.8)" fill="#b4d66c"/><ellipse cx="221.0" cy="313.4" rx="2.3" ry="0.93" transform="rotate(386 221.0 313.4)" fill="#b4d66c"/><ellipse cx="221.4" cy="307.6" rx="2.3" ry="0.93" transform="rotate(262 221.4 307.6)" fill="#8fba44"/><ellipse cx="223.9" cy="311.3" rx="2.3" ry="0.93" transform="rotate(386 223.9 311.3)" fill="#8fba44"/><ellipse cx="224.1" cy="308.4" rx="2.3" ry="0.93" transform="rotate(324 224.1 308.4)" fill="#a6cc58" stroke="#86a640" stroke-width="0.2"/><path d="M215.4,322.1 L225.0,319.2" stroke="#8aa848" stroke-width="0.4" fill="none"/><ellipse cx="218.1" cy="318.9" rx="2.3" ry="0.93" transform="rotate(281 218.1 318.9)" fill="#8fba44"/><ellipse cx="219.4" cy="323.2" rx="2.3" ry="0.93" transform="rotate(405 219.4 323.2)" fill="#8fba44"/><ellipse cx="221.3" cy="317.9" rx="2.3" ry="0.93" transform="rotate(281 221.3 317.9)" fill="#b4d66c"/><ellipse cx="222.6" cy="322.2" rx="2.3" ry="0.93" transform="rotate(405 222.6 322.2)" fill="#a6cc58"/><ellipse cx="224.5" cy="317.0" rx="2.3" ry="0.93" transform="rotate(281 224.5 317.0)" fill="#a6cc58"/><ellipse cx="225.8" cy="321.2" rx="2.3" ry="0.93" transform="rotate(405 225.8 321.2)" fill="#9cc44e"/><ellipse cx="226.7" cy="318.6" rx="2.3" ry="0.93" transform="rotate(343 226.7 318.6)" fill="#a6cc58" stroke="#86a640" stroke-width="0.2"/><path d="M171.8,317.7 L166.4,315.0" stroke="#8aa848" stroke-width="0.4" fill="none"/><ellipse cx="168.5" cy="318.5" rx="2.3" ry="0.93" transform="rotate(145 168.5 318.5)" fill="#8fba44"/><ellipse cx="170.5" cy="314.5" rx="2.3" ry="0.93" transform="rotate(269 170.5 314.5)" fill="#a6cc58"/><ellipse cx="166.7" cy="317.6" rx="2.3" ry="0.93" transform="rotate(145 166.7 317.6)" fill="#8fba44"/><ellipse cx="168.7" cy="313.6" rx="2.3" ry="0.93" transform="rotate(269 168.7 313.6)" fill="#a6cc58"/><ellipse cx="164.9" cy="316.7" rx="2.3" ry="0.93" transform="rotate(145 164.9 316.7)" fill="#9cc44e"/><ellipse cx="166.9" cy="312.7" rx="2.3" ry="0.93" transform="rotate(269 166.9 312.7)" fill="#b4d66c"/><ellipse cx="164.8" cy="314.1" rx="2.3" ry="0.93" transform="rotate(207 164.8 314.1)" fill="#a6cc58" stroke="#86a640" stroke-width="0.2"/><path d="M182.7,301.1 L180.3,296.7" stroke="#8aa848" stroke-width="0.4" fill="none"/><ellipse cx="179.6" cy="300.1" rx="2.3" ry="0.93" transform="rotate(179 179.6 300.1)" fill="#a6cc58"/><ellipse cx="183.5" cy="298.0" rx="2.3" ry="0.93" transform="rotate(303 183.5 298.0)" fill="#9cc44e"/><ellipse cx="178.8" cy="298.6" rx="2.3" ry="0.93" transform="rotate(179 178.8 298.6)" fill="#9cc44e"/><ellipse cx="182.7" cy="296.5" rx="2.3" ry="0.93" transform="rotate(303 182.7 296.5)" fill="#b4d66c"/><ellipse cx="178.0" cy="297.2" rx="2.3" ry="0.93" transform="rotate(179 178.0 297.2)" fill="#b4d66c"/><ellipse cx="181.9" cy="295.0" rx="2.3" ry="0.93" transform="rotate(303 181.9 295.0)" fill="#b4d66c"/><ellipse cx="179.4" cy="295.1" rx="2.3" ry="0.93" transform="rotate(241 179.4 295.1)" fill="#a6cc58" stroke="#86a640" stroke-width="0.2"/><path d="M210.0,301.5 L214.3,297.3" stroke="#8aa848" stroke-width="0.4" fill="none"/><ellipse cx="210.3" cy="298.1" rx="2.3" ry="0.93" transform="rotate(254 210.3 298.1)" fill="#b4d66c"/><ellipse cx="213.4" cy="301.3" rx="2.3" ry="0.93" transform="rotate(378 213.4 301.3)" fill="#9cc44e"/><ellipse cx="211.7" cy="296.7" rx="2.3" ry="0.93" transform="rotate(254 211.7 296.7)" fill="#a6cc58"/><ellipse cx="214.8" cy="299.9" rx="2.3" ry="0.93" transform="rotate(378 214.8 299.9)" fill="#9cc44e"/><ellipse cx="213.2" cy="295.3" rx="2.3" ry="0.93" transform="rotate(254 213.2 295.3)" fill="#a6cc58"/><ellipse cx="216.3" cy="298.5" rx="2.3" ry="0.93" transform="rotate(378 216.3 298.5)" fill="#9cc44e"/><ellipse cx="215.6" cy="296.0" rx="2.3" ry="0.93" transform="rotate(316 215.6 296.0)" fill="#a6cc58" stroke="#86a640" stroke-width="0.2"/><path d="M222.1,317.3 L228.6,317.5" stroke="#8aa848" stroke-width="0.4" fill="none"/><ellipse cx="224.9" cy="315.1" rx="2.3" ry="0.93" transform="rotate(300 224.9 315.1)" fill="#b4d66c"/><ellipse cx="224.8" cy="319.6" rx="2.3" ry="0.93" transform="rotate(424 224.8 319.6)" fill="#9cc44e"/><ellipse cx="227.0" cy="315.2" rx="2.3" ry="0.93" transform="rotate(300 227.0 315.2)" fill="#a6cc58"/><ellipse cx="226.9" cy="319.6" rx="2.3" ry="0.93" transform="rotate(424 226.9 319.6)" fill="#9cc44e"/><ellipse cx="229.2" cy="315.2" rx="2.3" ry="0.93" transform="rotate(300 229.2 315.2)" fill="#8fba44"/><ellipse cx="229.1" cy="319.7" rx="2.3" ry="0.93" transform="rotate(424 229.1 319.7)" fill="#9cc44e"/><ellipse cx="230.5" cy="317.5" rx="2.3" ry="0.93" transform="rotate(362 230.5 317.5)" fill="#a6cc58" stroke="#86a640" stroke-width="0.2"/><path d="M175.7,309.1 L172.9,303.8" stroke="#8aa848" stroke-width="0.4" fill="none"/><ellipse cx="172.5" cy="307.8" rx="2.3" ry="0.93" transform="rotate(181 172.5 307.8)" fill="#a6cc58"/><ellipse cx="176.5" cy="305.8" rx="2.3" ry="0.93" transform="rotate(305 176.5 305.8)" fill="#b4d66c"/><ellipse cx="171.6" cy="306.0" rx="2.3" ry="0.93" transform="rotate(181 171.6 306.0)" fill="#8fba44"/><ellipse cx="175.6" cy="304.0" rx="2.3" ry="0.93" transform="rotate(305 175.6 304.0)" fill="#8fba44"/><ellipse cx="170.7" cy="304.3" rx="2.3" ry="0.93" transform="rotate(181 170.7 304.3)" fill="#9cc44e"/><ellipse cx="174.7" cy="302.2" rx="2.3" ry="0.93" transform="rotate(305 174.7 302.2)" fill="#9cc44e"/><ellipse cx="172.1" cy="302.1" rx="2.3" ry="0.93" transform="rotate(243 172.1 302.1)" fill="#a6cc58" stroke="#86a640" stroke-width="0.2"/><path d="M192.8,300.4 L189.8,295.2" stroke="#8aa848" stroke-width="0.4" fill="none"/><ellipse cx="189.6" cy="299.3" rx="2.3" ry="0.93" transform="rotate(178 189.6 299.3)" fill="#a6cc58"/><ellipse cx="193.5" cy="297.0" rx="2.3" ry="0.93" transform="rotate(302 193.5 297.0)" fill="#8fba44"/><ellipse cx="188.6" cy="297.5" rx="2.3" ry="0.93" transform="rotate(178 188.6 297.5)" fill="#8fba44"/><ellipse cx="192.4" cy="295.3" rx="2.3" ry="0.93" transform="rotate(302 192.4 295.3)" fill="#8fba44"/><ellipse cx="187.6" cy="295.8" rx="2.3" ry="0.93" transform="rotate(178 187.6 295.8)" fill="#a6cc58"/><ellipse cx="191.4" cy="293.5" rx="2.3" ry="0.93" transform="rotate(302 191.4 293.5)" fill="#b4d66c"/><ellipse cx="188.9" cy="293.6" rx="2.3" ry="0.93" transform="rotate(240 188.9 293.6)" fill="#a6cc58" stroke="#86a640" stroke-width="0.2"/><path d="M216.7,308.6 L219.5,302.7" stroke="#8aa848" stroke-width="0.4" fill="none"/><ellipse cx="215.8" cy="305.2" rx="2.3" ry="0.93" transform="rotate(233 215.8 305.2)" fill="#b4d66c"/><ellipse cx="219.9" cy="307.1" rx="2.3" ry="0.93" transform="rotate(357 219.9 307.1)" fill="#b4d66c"/><ellipse cx="216.7" cy="303.2" rx="2.3" ry="0.93" transform="rotate(233 216.7 303.2)" fill="#a6cc58"/><ellipse cx="220.8" cy="305.1" rx="2.3" ry="0.93" transform="rotate(357 220.8 305.1)" fill="#8fba44"/><ellipse cx="217.7" cy="301.3" rx="2.3" ry="0.93" transform="rotate(233 217.7 301.3)" fill="#9cc44e"/><ellipse cx="221.7" cy="303.2" rx="2.3" ry="0.93" transform="rotate(357 221.7 303.2)" fill="#9cc44e"/><ellipse cx="220.2" cy="301.1" rx="2.3" ry="0.93" transform="rotate(295 220.2 301.1)" fill="#a6cc58" stroke="#86a640" stroke-width="0.2"/><path d="M174.1,325.6 L167.7,326.8" stroke="#8aa848" stroke-width="0.4" fill="none"/><ellipse cx="171.8" cy="328.3" rx="2.3" ry="0.93" transform="rotate(108 171.8 328.3)" fill="#b4d66c"/><ellipse cx="171.0" cy="323.9" rx="2.3" ry="0.93" transform="rotate(232 171.0 323.9)" fill="#9cc44e"/><ellipse cx="169.7" cy="328.7" rx="2.3" ry="0.93" transform="rotate(108 169.7 328.7)" fill="#9cc44e"/><ellipse cx="168.9" cy="324.3" rx="2.3" ry="0.93" transform="rotate(232 168.9 324.3)" fill="#8fba44"/><ellipse cx="167.5" cy="329.1" rx="2.3" ry="0.93" transform="rotate(108 167.5 329.1)" fill="#a6cc58"/><ellipse cx="166.7" cy="324.7" rx="2.3" ry="0.93" transform="rotate(232 166.7 324.7)" fill="#b4d66c"/><ellipse cx="165.9" cy="327.1" rx="2.3" ry="0.93" transform="rotate(170 165.9 327.1)" fill="#a6cc58" stroke="#86a640" stroke-width="0.2"/><path d="M221.0,323.2 L226.9,320.6" stroke="#8aa848" stroke-width="0.4" fill="none"/><ellipse cx="222.6" cy="320.0" rx="2.3" ry="0.93" transform="rotate(274 222.6 320.0)" fill="#8fba44"/><ellipse cx="224.4" cy="324.1" rx="2.3" ry="0.93" transform="rotate(398 224.4 324.1)" fill="#a6cc58"/><ellipse cx="224.6" cy="319.2" rx="2.3" ry="0.93" transform="rotate(274 224.6 319.2)" fill="#9cc44e"/><ellipse cx="226.3" cy="323.3" rx="2.3" ry="0.93" transform="rotate(398 226.3 323.3)" fill="#b4d66c"/><ellipse cx="226.5" cy="318.3" rx="2.3" ry="0.93" transform="rotate(274 226.5 318.3)" fill="#9cc44e"/><ellipse cx="228.3" cy="322.4" rx="2.3" ry="0.93" transform="rotate(398 228.3 322.4)" fill="#b4d66c"/><ellipse cx="228.6" cy="319.8" rx="2.3" ry="0.93" transform="rotate(336 228.6 319.8)" fill="#a6cc58" stroke="#86a640" stroke-width="0.2"/>
<circle cx="203.8" cy="297.4" r="0.9" fill="#e0b4d8"/><circle cx="203.5" cy="296.5" r="0.9" fill="#c77fb8"/><circle cx="201.4" cy="299.0" r="1.0" fill="#b76aa8"/><circle cx="204.0" cy="299.8" r="0.8" fill="#e0b4d8"/><circle cx="202.8" cy="300.4" r="0.8" fill="#d59acb"/><circle cx="201.2" cy="295.5" r="1.0" fill="#c77fb8"/><circle cx="204.8" cy="295.4" r="1.0" fill="#c77fb8"/><circle cx="201.4" cy="298.0" r="0.9" fill="#b76aa8"/><circle cx="205.3" cy="298.5" r="0.8" fill="#d59acb"/><circle cx="202.7" cy="299.0" r="1.0" fill="#c77fb8"/>
<circle cx="183.3" cy="304.1" r="1.1" fill="#c77fb8"/><circle cx="180.5" cy="302.4" r="0.9" fill="#c77fb8"/><circle cx="183.7" cy="304.8" r="0.8" fill="#d59acb"/><circle cx="184.4" cy="301.5" r="0.8" fill="#c77fb8"/><circle cx="181.4" cy="304.0" r="1.1" fill="#b76aa8"/><circle cx="185.0" cy="302.5" r="1.0" fill="#c77fb8"/><circle cx="180.8" cy="303.2" r="1.2" fill="#b76aa8"/><circle cx="182.2" cy="303.8" r="0.7" fill="#d59acb"/><circle cx="185.1" cy="305.5" r="0.7" fill="#b76aa8"/><circle cx="184.2" cy="302.1" r="1.0" fill="#c77fb8"/>
<circle cx="174.8" cy="324.5" r="1.0" fill="#e0b4d8"/><circle cx="176.7" cy="323.7" r="0.9" fill="#e0b4d8"/><circle cx="174.1" cy="325.0" r="0.8" fill="#c77fb8"/><circle cx="171.3" cy="322.1" r="0.8" fill="#d59acb"/><circle cx="174.5" cy="321.9" r="0.9" fill="#e0b4d8"/><circle cx="172.4" cy="321.7" r="0.8" fill="#e0b4d8"/><circle cx="176.5" cy="323.5" r="0.9" fill="#c77fb8"/><circle cx="174.0" cy="323.9" r="1.1" fill="#d59acb"/><circle cx="174.8" cy="324.2" r="0.8" fill="#b76aa8"/><circle cx="176.5" cy="321.7" r="1.1" fill="#e0b4d8"/><circle cx="176.8" cy="325.7" r="0.8" fill="#c77fb8"/><circle cx="172.2" cy="325.0" r="0.7" fill="#d59acb"/>
<circle cx="169.6" cy="311.1" r="1.1" fill="#e0b4d8"/><circle cx="170.8" cy="309.1" r="1.1" fill="#d59acb"/><circle cx="169.7" cy="310.2" r="0.8" fill="#d59acb"/><circle cx="173.0" cy="310.1" r="1.2" fill="#b76aa8"/><circle cx="173.1" cy="312.9" r="0.8" fill="#d59acb"/><circle cx="171.8" cy="312.0" r="1.2" fill="#d59acb"/><circle cx="170.9" cy="310.7" r="1.0" fill="#b76aa8"/>
<circle cx="218.8" cy="312.2" r="0.8" fill="#c77fb8"/><circle cx="220.2" cy="309.1" r="0.7" fill="#b76aa8"/><circle cx="218.0" cy="309.2" r="1.1" fill="#e0b4d8"/><circle cx="216.8" cy="309.0" r="0.7" fill="#d59acb"/><circle cx="217.1" cy="311.4" r="0.9" fill="#c77fb8"/><circle cx="216.2" cy="313.1" r="1.0" fill="#e0b4d8"/><circle cx="215.8" cy="310.0" r="1.1" fill="#e0b4d8"/><circle cx="216.8" cy="312.0" r="1.1" fill="#e0b4d8"/><circle cx="215.7" cy="312.0" r="0.9" fill="#c77fb8"/>
<circle cx="224.2" cy="331.8" r="0.8" fill="#d59acb"/><circle cx="222.5" cy="329.2" r="0.9" fill="#e0b4d8"/><circle cx="224.1" cy="328.1" r="0.8" fill="#b76aa8"/><circle cx="221.4" cy="329.8" r="1.1" fill="#c77fb8"/><circle cx="220.3" cy="326.5" r="1.0" fill="#c77fb8"/><circle cx="220.9" cy="327.7" r="0.8" fill="#c77fb8"/><circle cx="222.9" cy="327.7" r="0.8" fill="#e0b4d8"/><circle cx="220.4" cy="331.5" r="0.9" fill="#b76aa8"/><circle cx="223.5" cy="330.3" r="0.7" fill="#e0b4d8"/><circle cx="224.2" cy="327.4" r="1.1" fill="#c77fb8"/>
<circle cx="213.4" cy="300.6" r="0.7" fill="#d59acb"/><circle cx="212.5" cy="299.9" r="1.1" fill="#e0b4d8"/><circle cx="214.6" cy="300.8" r="1.0" fill="#d59acb"/><circle cx="213.6" cy="300.5" r="1.2" fill="#c77fb8"/><circle cx="212.6" cy="301.9" r="0.7" fill="#b76aa8"/><circle cx="212.4" cy="300.5" r="1.1" fill="#c77fb8"/>
<circle cx="177.2" cy="327.2" r="0.8" fill="#e0b4d8"/><circle cx="178.9" cy="329.3" r="1.1" fill="#e0b4d8"/><circle cx="178.3" cy="328.3" r="0.8" fill="#c77fb8"/><circle cx="177.0" cy="328.2" r="1.0" fill="#b76aa8"/><circle cx="178.9" cy="331.2" r="1.2" fill="#c77fb8"/><circle cx="177.7" cy="330.3" r="1.2" fill="#d59acb"/><circle cx="176.6" cy="331.1" r="0.8" fill="#b76aa8"/><circle cx="175.3" cy="328.6" r="1.1" fill="#e0b4d8"/>
<circle cx="192.9" cy="298.6" r="0.8" fill="#b76aa8"/><circle cx="193.2" cy="296.9" r="0.8" fill="#e0b4d8"/><circle cx="192.1" cy="297.8" r="1.1" fill="#c77fb8"/><circle cx="191.4" cy="297.8" r="1.1" fill="#b76aa8"/><circle cx="192.8" cy="300.0" r="0.8" fill="#e0b4d8"/>
<circle cx="224.1" cy="321.2" r="1.0" fill="#b76aa8"/><circle cx="228.0" cy="318.7" r="1.1" fill="#d59acb"/><circle cx="226.2" cy="321.2" r="0.7" fill="#c77fb8"/><circle cx="227.7" cy="318.4" r="0.9" fill="#b76aa8"/><circle cx="225.6" cy="320.6" r="1.1" fill="#c77fb8"/><circle cx="227.0" cy="319.4" r="1.1" fill="#b76aa8"/>
</g>
<clipPath id="ringclip"><rect x="168" y="290" width="70" height="41"/></clipPath>
<circle cx="197" cy="324" r="17.3" fill="#fff" stroke="#efd9a2" stroke-width="1.2" clip-path="url(#ringclip)"/>
<circle cx="197" cy="324" r="18.4" fill="none" stroke="#e4b8cc" stroke-width="0.5" clip-path="url(#ringclip)"/>
</g>
<g id="digger" transform="translate(148.8,17.4)" fill="#000" stroke="#000" stroke-linejoin="round" stroke-linecap="round">
<circle cx="44" cy="298" r="3.3" stroke="none"/>
<path d="M41.2,300.6 L44.6,303.8 L37,312 L30.6,309.4 L32,306.5 Z" stroke-width="2"/>
<path d="M33.6,310 L33.2,316.5 L30,323.5" fill="none" stroke-width="5.6"/>
<path d="M28.8,324.3 H34.6" fill="none" stroke-width="2.6"/>
<path d="M40,311.4 L42.6,321" fill="none" stroke-width="5.2"/>
<path d="M42.6,322.5 H48.4" fill="none" stroke-width="2.9"/>
<path d="M42.8,302.8 L50.6,311.2" fill="none" stroke-width="3.6"/>
<path d="M50.8,311.6 L59.4,318.6" fill="none" stroke-width="1.8"/>
<path d="M61.4,312.2 C62.4,316 60.2,319.8 55.8,320.8" fill="none" stroke-width="1.6"/>
<path d="M36.4,296.2 L38.2,296.8 M35.2,299.6 L36.8,300.4 M49.4,296.4 L51,296.4 M49.6,299.8 L51.2,300.2 M47.8,302.6 L49,303.6" fill="none" stroke-width="1.4"/>
</g>
<g id="planter">
<path d="M224.6,314.6 C229,313.6 235,315 240.2,319.6 C240.4,326 239.6,332 239,337.4 L231.2,337.4 C232,333.6 232.4,330.6 232,328 C231,324.6 229,322 226.6,319.6 C225.4,318 224.6,316.4 224.6,314.6 Z" fill="#1d6a55"/>
<path d="M231,337.2 H240.6 Q241.8,339.4 238,339.6 H231.6 Q230.2,338.4 231,337.2 Z" fill="#b5532e"/>
<path d="M221.4,311.8 C220.8,308.6 221.4,306 222.6,304.6 C225,301.6 228.6,300.4 232,300.4 C238.6,300.2 245,302.6 250.2,305.4 C252,307.6 252.6,310.6 252.2,313.2 C253,316 253.2,319 253.2,322 C254.6,325 256,328 257,331 L254,332.6 C252,329.6 250.2,326.6 248.8,323.6 C249,326 249,328 248.8,330 L245.2,330.4 C244.4,327 243.6,324 242.2,321.4 C240,318.6 237.6,316.4 235,315.2 C230.6,314 225.6,313.2 221.4,311.8 Z" fill="#f8f2ea" stroke="#e6d6c6" stroke-width="0.5"/>
<path d="M225,309 L229.6,304.4 M228.6,311.4 L234.6,304.6 M233,312.6 L239.4,305.4 M238,314 L243.6,307 M242.6,317.6 L247.6,310 M245.4,322 L250,315 M246.6,327 L250.4,321 M251.6,326 L253.4,329.6" stroke="#d9b9a6" stroke-width="0.4" fill="none"/>
<path d="M250.4,304.4 L254.6,306.8 L255,311.6 L251.6,309.8 Z" fill="#1f6b50"/>
<ellipse cx="254.4" cy="310.9" rx="1.9" ry="2.1" fill="#b5532e"/>
<path d="M250,300.8 L257,300.5 L263.2,305.6 L259.3,313 L255.3,307.4 L250.8,304.6 Z" fill="#ebad2b" stroke="#ebad2b" stroke-width="0.8" stroke-linejoin="round"/>
<path d="M252.5,301.6 L257,307.4 M255.5,301.4 L259.6,308.6 M258.3,302.6 L261.4,308.8" stroke="#d39414" stroke-width="0.4" fill="none"/>
<path d="M244,329.8 L257,329.4 L257,330.8 L244,331.2 Z" fill="#1f6b50"/>
<ellipse cx="249.1" cy="330.6" rx="2" ry="1.7" fill="#c2472e"/>
<ellipse cx="256.5" cy="333.2" rx="1.6" ry="2.1" fill="#c2472e"/>
</g>
<g id="sower" fill="#000" stroke="#000">
<circle cx="202.4" cy="241.9" r="4.9" stroke="#fff" stroke-width="0.7"/>
<path d="M187.2,240 C187.6,238.2 192,237 196.2,236 C196,233 197.6,230.8 201,230.4 C204.6,230 207.4,231.6 208,234.2 C211.6,233.8 215,234.2 215.2,235.6 C214.6,237.4 208,238.8 202.6,240 C196.6,241.4 189,242 187.2,240 Z" stroke="none"/>
<path d="M195.6,239.6 C200,240.2 205.6,238.8 209.4,237" fill="none" stroke="#fff" stroke-width="0.6"/>
<path d="M193,249.6 C193,247.6 194.6,246.6 196.6,246.5 L206,246 C208,246 209,247.2 209,249 L208.2,265.4 L194.2,265.4 Z" stroke="none"/>
<path d="M196.3,263 L195.9,285 M206.4,263 L206.8,285" fill="none" stroke-width="5" stroke-linecap="round"/>
<path d="M207.4,248.6 C213,248.4 220.6,246.8 224.6,244.8 C226.4,243.8 227.4,243 228.2,242" fill="none" stroke-width="3.7" stroke-linecap="round"/>
<path d="M181.1,256.7 L189.8,251.2 L194,252 L198,263.8 L191.4,267.4 C187,265.4 183.4,261.6 181.1,256.7 Z" stroke="none"/>
<path d="M194.4,250.6 C193.2,254 195,257 198.4,256.4 L206.6,254 M197.4,258.2 L206,255.2 M190.2,251.2 L195,264.6 M206.4,249.6 L197,262.6" fill="none" stroke="#fff" stroke-width="0.65"/>
</g>
<g id="dots" fill="#000">
<ellipse cx="247.9" cy="230.1" rx="2.1" ry="1.78" transform="rotate(-25 247.9 230.1)"/>
<ellipse cx="261.9" cy="227.6" rx="2.1" ry="1.78" transform="rotate(-25 261.9 227.6)"/>
<ellipse cx="256.3" cy="232.6" rx="1.9" ry="1.61" transform="rotate(-25 256.3 232.6)"/>
<ellipse cx="264.1" cy="235" rx="1.4" ry="1.19" transform="rotate(-25 264.1 235)"/>
<ellipse cx="270.6" cy="235.6" rx="1.7" ry="1.44" transform="rotate(-25 270.6 235.6)"/>
<ellipse cx="249" cy="240.4" rx="2.7" ry="2.29" transform="rotate(-25 249 240.4)"/>
<ellipse cx="255.6" cy="239.4" rx="1.8" ry="1.53" transform="rotate(-25 255.6 239.4)"/>
<ellipse cx="260.3" cy="241.2" rx="1.1" ry="0.94" transform="rotate(-25 260.3 241.2)"/>
<ellipse cx="249.7" cy="247" rx="1.3" ry="1.10" transform="rotate(-25 249.7 247)"/>
<ellipse cx="255.9" cy="246.3" rx="1.7" ry="1.44" transform="rotate(-25 255.9 246.3)"/>
<ellipse cx="237.6" cy="249.7" rx="1.7" ry="1.44" transform="rotate(-25 237.6 249.7)"/>
</g>
<g id="npk" style="font-family:'Liberation Sans',sans-serif;font-weight:normal">
<polygon points="254.4,255.2 245,261.8 248.9,271.4 260,271.4 263.7,261.8" fill="#0b3a9e"/>
<polygon points="287.3,255.2 278,261.8 281.4,271.4 293.2,271.4 296.8,261.8" fill="#146a9e"/>
<polygon points="263.7,262.5 277.7,262.5 280.6,271.4 271,278 261.5,271.4" fill="#dcaaaa"/>
<text x="250" y="268.5" font-size="12" fill="#6a1a6a" textLength="9.4" lengthAdjust="spacingAndGlyphs" style="font-family:'Liberation Sans',sans-serif;font-weight:normal">N</text>
<text x="267.4" y="275.4" font-size="12" fill="#6a1a4a" style="font-family:'Liberation Sans',sans-serif;font-weight:normal">P</text>
<text x="284.2" y="268.6" font-size="12" fill="#6a1a5a" textLength="9" lengthAdjust="spacingAndGlyphs" style="font-family:'Liberation Sans',sans-serif;font-weight:normal">K</text>
</g>
<g id="sprayman">
<path d="M319.4,246.6 C316.6,250 316.4,256 318.4,258.4 C321,258 323.6,254 326.6,251.8 L343.9,258.8" fill="none" stroke="#e8b030" stroke-width="0.6"/>
<path d="M327,249.6 C325.6,255.6 322.6,261.6 320.6,266.6 L324.2,267.4 C327.4,262 331,256 333,250.4 Z" fill="#2a1520"/>
<path d="M330.4,250 L329.8,267 L333.4,267 L335.6,250.6 Z" fill="#2a1520"/>
<path d="M319.4,266.6 L324.6,266.8 L324.6,268.6 L319.6,268.4 Z M329.2,266.8 L334.2,266.8 L334.6,268.6 L329.2,268.6 Z" fill="#1f7a58"/>
<path d="M328.6,234.8 C331,233.2 335.2,234.2 336,237 C337,242 336.6,247 335.6,251.6 L326.6,251 C326.4,245 327,239 328.6,234.8 Z" fill="#2a1520"/>
<path d="M331,238 C330,243 328.4,248 326.4,251.6 L328,252.4 C330.4,249 332.4,244 333.2,239 Z" fill="#2a1520"/>
<path d="M321.6,233.6 C324,232 328,232.6 329.6,234.4 C329.6,239 328.6,244 326.8,247 C324,247 320.6,245.6 318.8,243.6 C319,240 320,236 321.6,233.6 Z" fill="#1f7a58"/>
<path d="M323.6,232.8 C325,231.4 327.6,231.6 328.6,233 Z" fill="#e8b030"/>
<rect x="318.2" y="243.6" width="3" height="2.4" fill="#1f7a58"/>
<path d="M331.6,232.6 C333,231 335,231.4 336,233 L336.4,238 L332,237.6 Z" fill="#1f7a58"/>
<path d="M331.4,231.4 L333,230.4 L333.4,236.4 L331.8,236.6 Z" fill="#e8b030"/>
<path d="M333,231.2 C333.4,229.4 336.4,228.8 337.6,230.4 L338.8,232.4 L337,232.8 C337,234 335.4,234.8 334.2,234.2 C333.2,233.6 332.8,232.2 333,231.2 Z" fill="#2a1a22"/>
</g>
<g id="bundle">
<path d="M469,299.5 C462,290 452,272 443.5,260.5 C448,265 453,270 456,276 C461,284 466,292 469,299.5 Z" fill="#efd6a6" opacity="0.9"/>
<path d="M469,299.5 C460,292 447,276 433.5,267.5 C440,268 448,273 453,280 C459,287 465,294 469,299.5 Z" fill="#ecd0a0" opacity="0.75"/>
<path d="M469,299.5 C462,300 454,303 447,303 C452,305 457,308 452,312 C459,309 465,304 469,299.5 Z" fill="#f0dab0" opacity="0.7"/>
<path d="M469,299.5 Q457.8,278.0 443.5,260.5" fill="none" stroke="#e2c084" stroke-width="0.55"/>
<path d="M469,299.5 Q459.0,279.8 446,264" fill="none" stroke="#e2c084" stroke-width="0.55"/>
<path d="M469,299.5 Q460.5,281.2 449,267" fill="none" stroke="#e2c084" stroke-width="0.55"/>
<path d="M469,299.5 Q462.0,283.2 452,271" fill="none" stroke="#e2c084" stroke-width="0.55"/>
<path d="M469,299.5 Q463.5,285.8 455,276" fill="none" stroke="#e2c084" stroke-width="0.55"/>
<path d="M469,299.5 Q455.0,279.2 438,263" fill="none" stroke="#e2c084" stroke-width="0.55"/>
<path d="M469,299.5 Q453.0,280.8 434,266" fill="none" stroke="#e2c084" stroke-width="0.55"/>
<path d="M469,299.5 Q459.5,299.2 447,303" fill="none" stroke="#e2c084" stroke-width="0.55"/>
<path d="M469,299.5 Q461.8,303.8 451.5,312" fill="none" stroke="#e2c084" stroke-width="0.55"/>
<path d="M469,299.5 Q463.5,301.2 455,307" fill="none" stroke="#e2c084" stroke-width="0.55"/>
<path d="M469,299.5 Q458.0,295.8 444,296" fill="none" stroke="#e2c084" stroke-width="0.55"/>
<path d="M469,299.5 C461,292.5 443.5,278.5 432.5,270.5" fill="none" stroke="#dcbc86" stroke-width="0.5"/>
<path d="M432.5,270.5 C430.5,267.9 426.5,268.1 425.5,272.5 C424.5,278.5 423,290 422,298" fill="none" stroke="#8b6a42" stroke-width="1.7" stroke-linecap="round"/>
<ellipse cx="424.4" cy="273.9" rx="1.15" ry="1.6" fill="#8b6a42" transform="rotate(12 424.4 273.9)"/>
<ellipse cx="425.4" cy="276.8" rx="1.15" ry="1.6" fill="#8b6a42" transform="rotate(12 425.4 276.8)"/>
<ellipse cx="424.9" cy="279.6" rx="1.15" ry="1.6" fill="#8b6a42" transform="rotate(12 424.9 279.6)"/>
<ellipse cx="425.1" cy="282.4" rx="1.15" ry="1.6" fill="#8b6a42" transform="rotate(12 425.1 282.4)"/>
<ellipse cx="423.2" cy="285.2" rx="1.15" ry="1.6" fill="#8b6a42" transform="rotate(12 423.2 285.2)"/>
<ellipse cx="422.8" cy="288.1" rx="1.15" ry="1.6" fill="#8b6a42" transform="rotate(12 422.8 288.1)"/>
<ellipse cx="423.5" cy="290.9" rx="1.15" ry="1.6" fill="#8b6a42" transform="rotate(12 423.5 290.9)"/>
<ellipse cx="422.9" cy="293.8" rx="1.15" ry="1.6" fill="#8b6a42" transform="rotate(12 422.9 293.8)"/>
<ellipse cx="421.8" cy="296.6" rx="1.15" ry="1.6" fill="#8b6a42" transform="rotate(12 421.8 296.6)"/>
<path d="M469,299.5 C461,292.5 447,276.5 436,268.5" fill="none" stroke="#dcbc86" stroke-width="0.5"/>
<path d="M436,268.5 C434,265.9 430,266.1 429,270.5 C428,276.5 427,283 426,291" fill="none" stroke="#8b6a42" stroke-width="1.7" stroke-linecap="round"/>
<ellipse cx="429.2" cy="271.6" rx="1.15" ry="1.6" fill="#8b6a42" transform="rotate(12 429.2 271.6)"/>
<ellipse cx="428.3" cy="273.9" rx="1.15" ry="1.6" fill="#8b6a42" transform="rotate(12 428.3 273.9)"/>
<ellipse cx="428.8" cy="276.2" rx="1.15" ry="1.6" fill="#8b6a42" transform="rotate(12 428.8 276.2)"/>
<ellipse cx="427.0" cy="278.5" rx="1.15" ry="1.6" fill="#8b6a42" transform="rotate(12 427.0 278.5)"/>
<ellipse cx="426.9" cy="280.8" rx="1.15" ry="1.6" fill="#8b6a42" transform="rotate(12 426.9 280.8)"/>
<ellipse cx="428.0" cy="283.0" rx="1.15" ry="1.6" fill="#8b6a42" transform="rotate(12 428.0 283.0)"/>
<ellipse cx="426.5" cy="285.3" rx="1.15" ry="1.6" fill="#8b6a42" transform="rotate(12 426.5 285.3)"/>
<ellipse cx="426.0" cy="287.6" rx="1.15" ry="1.6" fill="#8b6a42" transform="rotate(12 426.0 287.6)"/>
<ellipse cx="426.8" cy="289.9" rx="1.15" ry="1.6" fill="#8b6a42" transform="rotate(12 426.8 289.9)"/>
<path d="M469,299.5 C461,292.5 450.5,276.5 439.5,268.5" fill="none" stroke="#dcbc86" stroke-width="0.5"/>
<path d="M439.5,268.5 C437.5,265.9 433.5,266.1 432.5,270.5 C431.5,276.5 431.5,296 430.5,304" fill="none" stroke="#8b6a42" stroke-width="1.7" stroke-linecap="round"/>
<ellipse cx="432.7" cy="272.4" rx="1.15" ry="1.6" fill="#8b6a42" transform="rotate(12 432.7 272.4)"/>
<ellipse cx="431.4" cy="276.1" rx="1.15" ry="1.6" fill="#8b6a42" transform="rotate(12 431.4 276.1)"/>
<ellipse cx="432.1" cy="279.8" rx="1.15" ry="1.6" fill="#8b6a42" transform="rotate(12 432.1 279.8)"/>
<ellipse cx="432.1" cy="283.5" rx="1.15" ry="1.6" fill="#8b6a42" transform="rotate(12 432.1 283.5)"/>
<ellipse cx="430.8" cy="287.2" rx="1.15" ry="1.6" fill="#8b6a42" transform="rotate(12 430.8 287.2)"/>
<ellipse cx="431.6" cy="291.0" rx="1.15" ry="1.6" fill="#8b6a42" transform="rotate(12 431.6 291.0)"/>
<ellipse cx="430.2" cy="294.7" rx="1.15" ry="1.6" fill="#8b6a42" transform="rotate(12 430.2 294.7)"/>
<ellipse cx="430.5" cy="298.4" rx="1.15" ry="1.6" fill="#8b6a42" transform="rotate(12 430.5 298.4)"/>
<ellipse cx="429.7" cy="302.1" rx="1.15" ry="1.6" fill="#8b6a42" transform="rotate(12 429.7 302.1)"/>
<path d="M469,299.5 C461,292.5 454.5,278.5 443.5,270.5" fill="none" stroke="#dcbc86" stroke-width="0.5"/>
<path d="M443.5,270.5 C441.5,267.9 437.5,268.1 436.5,272.5 C435.5,278.5 435.5,288 434.5,296" fill="none" stroke="#8b6a42" stroke-width="1.7" stroke-linecap="round"/>
<ellipse cx="435.7" cy="273.8" rx="1.15" ry="1.6" fill="#8b6a42" transform="rotate(12 435.7 273.8)"/>
<ellipse cx="437.2" cy="276.4" rx="1.15" ry="1.6" fill="#8b6a42" transform="rotate(12 437.2 276.4)"/>
<ellipse cx="435.7" cy="279.0" rx="1.15" ry="1.6" fill="#8b6a42" transform="rotate(12 435.7 279.0)"/>
<ellipse cx="436.8" cy="281.6" rx="1.15" ry="1.6" fill="#8b6a42" transform="rotate(12 436.8 281.6)"/>
<ellipse cx="435.4" cy="284.2" rx="1.15" ry="1.6" fill="#8b6a42" transform="rotate(12 435.4 284.2)"/>
<ellipse cx="435.5" cy="286.9" rx="1.15" ry="1.6" fill="#8b6a42" transform="rotate(12 435.5 286.9)"/>
<ellipse cx="435.9" cy="289.5" rx="1.15" ry="1.6" fill="#8b6a42" transform="rotate(12 435.9 289.5)"/>
<ellipse cx="435.2" cy="292.1" rx="1.15" ry="1.6" fill="#8b6a42" transform="rotate(12 435.2 292.1)"/>
<ellipse cx="433.8" cy="294.7" rx="1.15" ry="1.6" fill="#8b6a42" transform="rotate(12 433.8 294.7)"/>
<path d="M469,299.5 C461,292.5 458,282 447,274" fill="none" stroke="#dcbc86" stroke-width="0.5"/>
<path d="M447,274 C445,271.4 441,271.6 440,276 C439,282 438.5,298 437.5,306" fill="none" stroke="#8b6a42" stroke-width="1.7" stroke-linecap="round"/>
<ellipse cx="440.1" cy="277.7" rx="1.15" ry="1.6" fill="#8b6a42" transform="rotate(12 440.1 277.7)"/>
<ellipse cx="439.9" cy="281.0" rx="1.15" ry="1.6" fill="#8b6a42" transform="rotate(12 439.9 281.0)"/>
<ellipse cx="438.6" cy="284.3" rx="1.15" ry="1.6" fill="#8b6a42" transform="rotate(12 438.6 284.3)"/>
<ellipse cx="438.1" cy="287.7" rx="1.15" ry="1.6" fill="#8b6a42" transform="rotate(12 438.1 287.7)"/>
<ellipse cx="439.6" cy="291.0" rx="1.15" ry="1.6" fill="#8b6a42" transform="rotate(12 439.6 291.0)"/>
<ellipse cx="438.5" cy="294.3" rx="1.15" ry="1.6" fill="#8b6a42" transform="rotate(12 438.5 294.3)"/>
<ellipse cx="437.5" cy="297.7" rx="1.15" ry="1.6" fill="#8b6a42" transform="rotate(12 437.5 297.7)"/>
<ellipse cx="437.8" cy="301.0" rx="1.15" ry="1.6" fill="#8b6a42" transform="rotate(12 437.8 301.0)"/>
<ellipse cx="437.0" cy="304.3" rx="1.15" ry="1.6" fill="#8b6a42" transform="rotate(12 437.0 304.3)"/>
<path d="M469,299.5 C461,292.5 462,286.5 451,278.5" fill="none" stroke="#dcbc86" stroke-width="0.5"/>
<path d="M451,278.5 C449,275.9 445,276.1 444,280.5 C443,286.5 443.5,292 442.5,300" fill="none" stroke="#8b6a42" stroke-width="1.7" stroke-linecap="round"/>
<ellipse cx="444.6" cy="281.6" rx="1.15" ry="1.6" fill="#8b6a42" transform="rotate(12 444.6 281.6)"/>
<ellipse cx="443.8" cy="283.8" rx="1.15" ry="1.6" fill="#8b6a42" transform="rotate(12 443.8 283.8)"/>
<ellipse cx="442.7" cy="285.9" rx="1.15" ry="1.6" fill="#8b6a42" transform="rotate(12 442.7 285.9)"/>
<ellipse cx="444.1" cy="288.1" rx="1.15" ry="1.6" fill="#8b6a42" transform="rotate(12 444.1 288.1)"/>
<ellipse cx="442.3" cy="290.2" rx="1.15" ry="1.6" fill="#8b6a42" transform="rotate(12 442.3 290.2)"/>
<ellipse cx="442.6" cy="292.4" rx="1.15" ry="1.6" fill="#8b6a42" transform="rotate(12 442.6 292.4)"/>
<ellipse cx="441.9" cy="294.6" rx="1.15" ry="1.6" fill="#8b6a42" transform="rotate(12 441.9 294.6)"/>
<ellipse cx="443.3" cy="296.8" rx="1.15" ry="1.6" fill="#8b6a42" transform="rotate(12 443.3 296.8)"/>
<ellipse cx="441.7" cy="298.9" rx="1.15" ry="1.6" fill="#8b6a42" transform="rotate(12 441.7 298.9)"/>
<path d="M469,299.5 C461,292.5 465.5,291.5 454.5,283.5" fill="none" stroke="#dcbc86" stroke-width="0.5"/>
<path d="M454.5,283.5 C452.5,280.9 448.5,281.1 447.5,285.5 C446.5,291.5 448,297 447,305" fill="none" stroke="#8b6a42" stroke-width="1.7" stroke-linecap="round"/>
<ellipse cx="447.5" cy="286.6" rx="1.15" ry="1.6" fill="#8b6a42" transform="rotate(12 447.5 286.6)"/>
<ellipse cx="446.5" cy="288.8" rx="1.15" ry="1.6" fill="#8b6a42" transform="rotate(12 446.5 288.8)"/>
<ellipse cx="447.3" cy="290.9" rx="1.15" ry="1.6" fill="#8b6a42" transform="rotate(12 447.3 290.9)"/>
<ellipse cx="447.7" cy="293.1" rx="1.15" ry="1.6" fill="#8b6a42" transform="rotate(12 447.7 293.1)"/>
<ellipse cx="447.3" cy="295.2" rx="1.15" ry="1.6" fill="#8b6a42" transform="rotate(12 447.3 295.2)"/>
<ellipse cx="447.1" cy="297.4" rx="1.15" ry="1.6" fill="#8b6a42" transform="rotate(12 447.1 297.4)"/>
<ellipse cx="447.1" cy="299.6" rx="1.15" ry="1.6" fill="#8b6a42" transform="rotate(12 447.1 299.6)"/>
<ellipse cx="446.9" cy="301.8" rx="1.15" ry="1.6" fill="#8b6a42" transform="rotate(12 446.9 301.8)"/>
<ellipse cx="447.2" cy="303.9" rx="1.15" ry="1.6" fill="#8b6a42" transform="rotate(12 447.2 303.9)"/>
<path d="M469,299.5 C461,292.5 440.5,282 429.5,274" fill="none" stroke="#dcbc86" stroke-width="0.5"/>
<path d="M429.5,274 C427.5,271.4 423.5,271.6 422.5,276 C421.5,282 421.5,280 420.5,288" fill="none" stroke="#8b6a42" stroke-width="1.7" stroke-linecap="round"/>
<ellipse cx="421.5" cy="276.7" rx="1.15" ry="1.6" fill="#8b6a42" transform="rotate(12 421.5 276.7)"/>
<ellipse cx="422.1" cy="278.0" rx="1.15" ry="1.6" fill="#8b6a42" transform="rotate(12 422.1 278.0)"/>
<ellipse cx="421.4" cy="279.3" rx="1.15" ry="1.6" fill="#8b6a42" transform="rotate(12 421.4 279.3)"/>
<ellipse cx="422.5" cy="280.7" rx="1.15" ry="1.6" fill="#8b6a42" transform="rotate(12 422.5 280.7)"/>
<ellipse cx="422.5" cy="282.0" rx="1.15" ry="1.6" fill="#8b6a42" transform="rotate(12 422.5 282.0)"/>
<ellipse cx="420.3" cy="283.3" rx="1.15" ry="1.6" fill="#8b6a42" transform="rotate(12 420.3 283.3)"/>
<ellipse cx="420.3" cy="284.7" rx="1.15" ry="1.6" fill="#8b6a42" transform="rotate(12 420.3 284.7)"/>
<ellipse cx="421.3" cy="286.0" rx="1.15" ry="1.6" fill="#8b6a42" transform="rotate(12 421.3 286.0)"/>
<ellipse cx="420.8" cy="287.3" rx="1.15" ry="1.6" fill="#8b6a42" transform="rotate(12 420.8 287.3)"/>
</g>
<g id="harvester" fill="#fdf6ea" stroke="#d6ae78" stroke-width="0.7" stroke-linejoin="round">
<path d="M490,306 C491,312 491.4,318 492.4,324 L494.6,338 C495,340.6 497,342.6 499.8,342.4 C502,342 502.4,340 501.4,338.6 L499.6,325 C501.6,319 502.4,313 502,306 Z"/>
<path d="M492.4,325.4 C494.6,326.4 497.4,326.4 499.6,325.4" fill="none"/>
<path d="M482,303 C477,304.6 472,306.4 469,308.6 C467.6,310.6 467.6,313 468,315 L466.6,328 C465.6,330.6 463.6,332 462.6,333.4 C463,335.2 466,335.6 468.6,335 C471,334.2 472,332 472.2,329.6 L473.6,316 C478,314.6 483,312.6 487,310 Z"/>
<path d="M479.4,300.6 C486,302.6 494,302.6 501.6,300 C502.6,304 502.8,308.6 502,312.6 C497,314.4 492,314 488.6,311.6 C485,313 481.6,312.4 479,310.4 C478.6,307 478.8,303.6 479.4,300.6 Z" fill="#f3dfc4"/>
<path d="M484,304 L483,311 M487,304.4 L486.4,311 M491,304.4 L491,312.6 M495,304 L495.6,313 M499,303 L500,312" fill="none" stroke="#cfa574" stroke-width="0.5"/>
<path d="M482.4,269.8 C486,267.6 491,268.6 494.6,272 C498.6,276.6 501.4,284 502,292 C502.2,296 502,299 501.4,301.6 C494,304.4 486,304.4 479.4,302 C479,298 479.6,294 481,290 C481.4,283 481.6,276 482.4,269.8 Z"/>
<path d="M497,284 C493,290 486,295 478,298.6 C475,299.4 472,300.4 470.6,301.6 C470.4,303.6 473,304.6 476,304 C484,301.6 492,297 499.6,291 Z"/>
<path d="M483.6,272.6 C480,277 475,281.6 470.6,284.6 C468.4,285 467,286.6 467.8,288.4 C469.6,289.8 473,289.4 475,288.2 C479.4,285.6 484,281.6 487,277.6 Z"/>
<path d="M479.6,268 L483.8,268 L484.6,284.4 L481.6,284.6 L481.2,272 L480,284 L477.8,283.6 Z" fill="#f1e0c6"/>
<path d="M466.6,268.4 C466.6,273 469,276.4 472.6,276.6 C476,276.4 478,273 478,268.4 Z" fill="#e6cfb4"/>
<g transform="rotate(-9 473.5 263)">
<ellipse cx="473.5" cy="263.6" rx="18.4" ry="5.4"/>
<path d="M463.6,261.8 C465.6,256.4 468.6,251.6 471.6,249.4 C476,251 480.6,256 483.4,261.8 C478,263.6 469,263.6 463.6,261.8 Z"/>
<path d="M471.6,249.4 L466.6,262.4 M471.6,249.4 L470,263.2 M471.6,249.4 L474,263.2 M471.6,249.4 L478,262.8 M471.6,249.4 L481.4,262" fill="none" stroke-width="0.4"/>
</g>
<path d="M490,273 L497,290 M487,272 L493,286 M494,277 L500,296 M494,316 L496,324 M497,316 L498.6,324 M469.6,316 L469,328 M495.4,328 L497.4,340 M498,328 L499.6,339" fill="none" stroke="#e3c9a0" stroke-width="0.45"/>
</g>
<g id="soilnpk">
<polygon points="248.9,359.4 253.20000000000002,362.2 252.9,369.09999999999997 244.9,369.09999999999997 244.6,362.2" fill="#1440a8" stroke="#1440a8" stroke-width="2" stroke-linejoin="round"/><text x="245.6" y="368.7" font-size="9.2" fill="#7a2f78" style="font-family:'Liberation Sans',sans-serif;font-weight:normal">N</text>
<polygon points="294.8,351.7 299.1,354.5 298.8,361.4 290.8,361.4 290.5,354.5" fill="#1440a8" stroke="#1440a8" stroke-width="2" stroke-linejoin="round"/><text x="291.5" y="361.0" font-size="9.2" fill="#7a2f78" style="font-family:'Liberation Sans',sans-serif;font-weight:normal">N</text>
<polygon points="320.8,357.4 325.1,360.2 324.8,367.09999999999997 316.8,367.09999999999997 316.5,360.2" fill="#1440a8" stroke="#1440a8" stroke-width="2" stroke-linejoin="round"/><text x="317.5" y="366.7" font-size="9.2" fill="#7a2f78" style="font-family:'Liberation Sans',sans-serif;font-weight:normal">N</text>
<polygon points="253.3,377.2 257.6,380.0 257.3,386.9 249.3,386.9 249.0,380.0" fill="#1440a8" stroke="#1440a8" stroke-width="2" stroke-linejoin="round"/><text x="250.0" y="386.5" font-size="9.2" fill="#7a2f78" style="font-family:'Liberation Sans',sans-serif;font-weight:normal">N</text>
<polygon points="373,353 377.3,355.8 377.0,362.7 369.0,362.7 368.7,355.8" fill="#1440a8" stroke="#1440a8" stroke-width="2" stroke-linejoin="round"/><text x="369.7" y="362.3" font-size="9.2" fill="#7a2f78" style="font-family:'Liberation Sans',sans-serif;font-weight:normal">N</text>
<polygon points="353.6,379 357.90000000000003,381.8 357.6,388.7 349.6,388.7 349.3,381.8" fill="#1440a8" stroke="#1440a8" stroke-width="2" stroke-linejoin="round"/><text x="350.3" y="388.3" font-size="9.2" fill="#7a2f78" style="font-family:'Liberation Sans',sans-serif;font-weight:normal">N</text>
<polygon points="263.6,357.8 274.0,357.8 274.0,365.8 268.8,369.2 263.6,365.8" fill="#efcbc8" stroke="#efcbc8" stroke-width="1.8" stroke-linejoin="round"/><text x="265.7" y="366.59999999999997" font-size="9.6" fill="#6a2a5a" style="font-family:'Liberation Sans',sans-serif;font-weight:normal">P</text>
<polygon points="312.2,377.40000000000003 322.59999999999997,377.40000000000003 322.59999999999997,385.40000000000003 317.4,388.8 312.2,385.40000000000003" fill="#efcbc8" stroke="#efcbc8" stroke-width="1.8" stroke-linejoin="round"/><text x="314.29999999999995" y="386.2" font-size="9.6" fill="#6a2a5a" style="font-family:'Liberation Sans',sans-serif;font-weight:normal">P</text>
<polygon points="341.8,356.3 352.2,356.3 352.2,364.3 347,367.7 341.8,364.3" fill="#efcbc8" stroke="#efcbc8" stroke-width="1.8" stroke-linejoin="round"/><text x="343.9" y="365.09999999999997" font-size="9.6" fill="#6a2a5a" style="font-family:'Liberation Sans',sans-serif;font-weight:normal">P</text>
<polygon points="375.3,378.6 385.7,378.6 385.7,386.6 380.5,390 375.3,386.6" fill="#efcbc8" stroke="#efcbc8" stroke-width="1.8" stroke-linejoin="round"/><text x="377.4" y="387.4" font-size="9.6" fill="#6a2a5a" style="font-family:'Liberation Sans',sans-serif;font-weight:normal">P</text>
<polygon points="281.8,373.5 288.7,378.5 286.1,386.7 277.5,386.7 274.9,378.5" fill="#1a78b8" stroke="#1a78b8" stroke-width="1" stroke-linejoin="round"/><text x="278.5" y="384.59999999999997" font-size="9.8" fill="#7a2a6a" style="font-family:'Liberation Sans',sans-serif;font-weight:normal">K</text>
<polygon points="339.0,369.8 345.9,374.8 343.3,383.0 334.7,383.0 332.1,374.8" fill="#1a78b8" stroke="#1a78b8" stroke-width="1" stroke-linejoin="round"/><text x="335.7" y="380.9" font-size="9.8" fill="#7a2a6a" style="font-family:'Liberation Sans',sans-serif;font-weight:normal">K</text>
<polygon points="395.6,360.8 402.5,365.8 399.9,374.0 391.3,374.0 388.7,365.8" fill="#1a78b8" stroke="#1a78b8" stroke-width="1" stroke-linejoin="round"/><text x="392.3" y="371.9" font-size="9.8" fill="#7a2a6a" style="font-family:'Liberation Sans',sans-serif;font-weight:normal">K</text>
</g>
<g id="fieldlabels">
<path d="M171.7,346.8 H238.8 Q241.8,346.8 241.8,349.8 V357.2 Q241.8,360.2 238.8,360.2 H233 Q230,360.2 230,363.2 V370.5 Q230,373.5 227,373.5 H182.7 Q179.7,373.5 179.7,370.5 V363.2 Q179.7,360.2 176.7,360.2 H171.7 Q168.7,360.2 168.7,357.2 V349.8 Q168.7,346.8 171.7,346.8 Z" fill="#fbeba2"/>
<rect x="168.7" y="378.2" width="74" height="14.3" rx="3.2" fill="#f8cfae"/>
<rect x="416.8" y="352.2" width="90" height="14" rx="3.2" fill="#fbd47c"/>
<rect x="429.2" y="370.5" width="74.8" height="14.1" rx="3.2" fill="#f8cfae"/>
<text x="172.2" y="355.5" font-size="10.2">Green manure</text>
<text x="184.8" y="368.8" font-size="10.2">recycling</text>
<text x="173.2" y="388" font-size="11.4">SOC changes</text>
<text x="421" y="361.7" font-size="11.75" xml:space="preserve">Straw  recycling</text>
<text x="433.3" y="380.6" font-size="11.4">SOC changes</text>
</g>
</g>
<g id="wavy">
<path d="M210.6,156 V168.4 Q210.6,173.0 216.79999999999998,173.0 H218.15 Q224.35,173.0 224.35,179.2 V190.4 Q224.35,196.8 230.75,196.8 H237.70000000000002 Q240.3,196.8 240.3,200.4" fill="none" stroke="#f25a4c" stroke-width="1.75"/><polygon points="210.6,154 214.5,159.2 206.7,159.2" fill="#f25a4c"/>
<path d="M238.3,153.5 V165.9 Q238.3,170.5 244.5,170.5 H245.85000000000002 Q252.05,170.5 252.05,176.7 V188.0 Q252.05,194.4 258.45,194.4 H265.4 Q268,194.4 268,198" fill="none" stroke="#f25a4c" stroke-width="1.75"/><polygon points="238.3,151.5 242.20000000000002,156.7 234.4,156.7" fill="#f25a4c"/>
<path d="M267.5,153.5 V165.9 Q267.5,170.5 273.7,170.5 H272.45 Q278.65,170.5 278.65,176.7 V188.0 Q278.65,194.4 285.04999999999995,194.4 H289.4 Q292,194.4 292,198" fill="none" stroke="#f25a4c" stroke-width="1.75"/><polygon points="267.5,151.5 271.4,156.7 263.6,156.7" fill="#f25a4c"/>
<path d="M298.7,150.4 V162.8 Q298.7,167.4 304.9,167.4 H305.84999999999997 Q312.04999999999995,167.4 312.04999999999995,173.6 V184.0 Q312.04999999999995,190.4 318.44999999999993,190.4 H325.0 Q327.6,190.4 327.6,194" fill="none" stroke="#f25a4c" stroke-width="1.75"/><polygon points="298.7,148.4 302.59999999999997,153.6 294.8,153.6" fill="#f25a4c"/>
<path d="M324,150.4 V162.8 Q324,167.4 330.2,167.4 H331.34999999999997 Q337.54999999999995,167.4 337.54999999999995,173.6 V184.0 Q337.54999999999995,190.4 343.94999999999993,190.4 H350.7 Q353.3,190.4 353.3,194" fill="none" stroke="#f25a4c" stroke-width="1.75"/><polygon points="324,148.4 327.9,153.6 320.1,153.6" fill="#f25a4c"/>
</g>
<rect x="167.7" y="168" width="354.8" height="226" fill="none" stroke="#000" stroke-width="2.2"/>
<rect x="166.6" y="392.6" width="357" height="2.9" fill="#000"/>
<g id="arrows">
<line x1="78.7" y1="131.0" x2="78.7" y2="116.1" stroke="#0637a3" stroke-width="4.2"/>
<polygon points="78.7,109.5 84.9,116.4 72.5,116.4" fill="#0637a3" stroke="#0637a3" stroke-width="2.4" stroke-linejoin="round"/>
<line x1="77.0" y1="83.5" x2="135.5" y2="25.3" stroke="#0637a3" stroke-width="4.2"/>
<polygon points="141.9,18.9 139.7,29.8 131.0,21.1" fill="#0637a3" stroke="#0637a3" stroke-width="2.4" stroke-linejoin="round"/>
<line x1="248.2" y1="58.0" x2="248.2" y2="39.2" stroke="#0637a3" stroke-width="4.2"/>
<polygon points="248.2,32.1 254.6,39.5 241.8,39.5" fill="#0637a3" stroke="#0637a3" stroke-width="2.4" stroke-linejoin="round"/>
<line x1="314.5" y1="18.5" x2="378.8" y2="18.5" stroke="#0637a3" stroke-width="4.2"/>
<polygon points="387.4,18.5 378.5,24.4 378.5,12.6" fill="#0637a3" stroke="#0637a3" stroke-width="2.4" stroke-linejoin="round"/>
<line x1="314.5" y1="19.0" x2="374.7" y2="51.2" stroke="#0637a3" stroke-width="4.2"/>
<polygon points="382.3,55.3 371.7,56.3 377.3,45.9" fill="#0637a3" stroke="#0637a3" stroke-width="2.4" stroke-linejoin="round"/>
<line x1="437.0" y1="74.2" x2="446.5" y2="74.2" stroke="#0637a3" stroke-width="4.2"/>
<polygon points="455.1,74.2 446.2,80.0 446.2,68.4" fill="#0637a3" stroke="#0637a3" stroke-width="2.4" stroke-linejoin="round"/>
<line x1="506.7" y1="115.0" x2="506.7" y2="100.9" stroke="#0637a3" stroke-width="4.2"/>
<polygon points="506.7,93.3 512.9,101.2 500.5,101.2" fill="#0637a3" stroke="#0637a3" stroke-width="2.4" stroke-linejoin="round"/>
<path d="M612.6,183.5 V29 Q612.6,18.5 602,18.5 H572" fill="none" stroke="#0637a3" stroke-width="4.2"/>
<line x1="580.0" y1="18.5" x2="572.5" y2="18.5" stroke="#0637a3" stroke-width="4.2"/>
<polygon points="563.9,18.5 572.8,12.6 572.8,24.4" fill="#0637a3" stroke="#0637a3" stroke-width="2.4" stroke-linejoin="round"/>
<line x1="612.6" y1="127.8" x2="579.0" y2="128.7" stroke="#0637a3" stroke-width="4.2"/>
<polygon points="570.4,128.9 579.1,122.6 579.4,134.8" fill="#0637a3" stroke="#0637a3" stroke-width="2.4" stroke-linejoin="round"/>
<line x1="128.0" y1="280.2" x2="151.5" y2="280.2" stroke="#0637a3" stroke-width="5.6"/>
<polygon points="164.4,280.2 151.5,287.7 151.5,272.7" fill="#0637a3" stroke="#0637a3" stroke-width="3.2" stroke-linejoin="round"/>
<line x1="428.9" y1="261.0" x2="522.1" y2="226.4" stroke="#0637a3" stroke-width="2.8"/>
<polygon points="528.4,224.0 523.3,231.1 519.9,222.0" fill="#0637a3" stroke="#0637a3" stroke-width="1.6" stroke-linejoin="round"/>
</g>
<g id="labels" fill="#000" font-size="13.2">
<text x="146.6" y="22.4">Area-scaled carbon footprint</text>
<text x="393.4" y="22.4">Yield-scaled carbon footprint</text>
<text x="27.7" y="101.7">Indirect emissions</text>
<text x="336.5" y="71.6" font-size="13">Environmental</text>
<text x="342.8" y="88.6" font-size="13.3">damage cost</text>
<text x="467.4" y="70.4" font-size="13.5">Net ecosystem</text>
<text x="466" y="88.2" font-size="13.05">economic benift</text>
<text y="131.2" font-size="12.9"><tspan x="371.2">Gain</tspan><tspan x="406" textLength="8.8" lengthAdjust="spacingAndGlyphs">=</tspan><tspan x="419.6">Yield</tspan><tspan x="452.7">income</tspan><tspan x="502.4">Input</tspan><tspan x="536.2">cost</tspan></text>
<rect x="493.1" y="126" width="7.9" height="1.5" fill="#000"/>
<text x="218.2" y="81.5" font-size="13.1">Direct GHG</text>
<text x="219" y="101.1" font-size="16.2">emissions</text>
<text x="195.2" y="134.6" font-size="16">CH<tspan font-size="8.6" dy="2.6">4</tspan></text>
<text x="240.8" y="134.6" font-size="16">CO<tspan font-size="8.6" dy="2.6">2</tspan></text>
<text x="289.8" y="134.6" font-size="16.2">N<tspan font-size="8.6" dy="2.6">2</tspan><tspan dy="-2.6">O</tspan></text>
<text x="534.4" y="255" font-size="12.7">Rice grain yield</text>
<text x="35" y="147" font-size="13" fill="#f0584e">Agricultural</text>
<text x="54.3" y="164.6" font-size="13" fill="#f0584e">inputs</text>
<text x="274.9" y="214.6" font-size="12.6" fill="#f0584e">In-field</text>
<text x="70.5" y="189.2" font-size="12">Chemical</text>
<text x="71.6" y="205.8" font-size="12">fertilizers</text>
<g font-size="10.4">
<text x="69.9" y="226.4">Straw</text>
<text x="69.9" y="249.5">Seeds</text>
<text x="70.1" y="283.6">Diesel</text>
<text x="70.1" y="320.6">Labor</text>
<text x="70.5" y="348.9">Pesticides</text>
<text x="72" y="373.3">Irrigation/</text>
<text x="70.4" y="386.8">Electricity</text>
</g>
</g>
<g id="bag">
<path d="M29.2,180.3 L30.05,178.7 L30.90,180.3 L31.75,178.7 L32.60,180.3 L33.45,178.7 L34.30,180.3 L35.15,178.7 L36.00,180.3 L36.85,178.7 L37.70,180.3 L38.55,178.7 L39.40,180.3 L40.25,178.7 L41.10,180.3 L41.95,178.7 L42.80,180.3 L43.65,178.7 L44.50,180.3 L45.35,178.7 L46.20,180.3 L47.05,178.7 L47.90,180.3 L48.75,178.7 L49.60,180.3 L49.6,180.3 L50.6,202.3 L28.2,202.3 Z" fill="#f3cdb5"/>
<path d="M33,184.3 H45.6 M31,199.6 H47.8" stroke="#c9996f" stroke-width="0.9" fill="none"/>
<text x="32.7" y="192.9" font-size="6.4" fill="#c08a60" style="font-family:'Liberation Sans',sans-serif;font-weight:bold" textLength="13.8" lengthAdjust="spacingAndGlyphs">NPK</text>
</g>
<g id="straw" fill="none" stroke-linecap="round">
<path d="M30.4,219.6 Q41.6,217.8 52.9,217.6" stroke="#fcc636" stroke-width="0.80"/>
<path d="M35.8,219.5 Q45.5,217.7 55.2,217.5" stroke="#fee08a" stroke-width="0.77"/>
<path d="M32.9,219.4 Q45.9,217.8 58.9,217.9" stroke="#fdd45a" stroke-width="0.93"/>
<path d="M32.7,220.5 Q44.9,218.5 57.1,218.1" stroke="#fcc636" stroke-width="0.65"/>
<path d="M28.7,220.9 Q42.0,219.3 55.3,219.3" stroke="#fee08a" stroke-width="0.86"/>
<path d="M35.9,219.6 Q47.5,218.7 59.2,219.3" stroke="#fdd45a" stroke-width="0.94"/>
<path d="M29.3,218.9 Q41.2,218.8 53.1,220.3" stroke="#fee08a" stroke-width="0.89"/>
<path d="M35.3,219.8 Q47.8,219.2 60.2,220.2" stroke="#fee08a" stroke-width="0.79"/>
<path d="M35.7,220.7 Q48.7,220.0 61.6,221.0" stroke="#fdd45a" stroke-width="0.85"/>
<path d="M31.1,220.3 Q44.5,219.6 58.0,220.4" stroke="#fdd45a" stroke-width="0.82"/>
<path d="M36.4,219.6 Q44.9,219.6 53.4,221.3" stroke="#fee08a" stroke-width="0.54"/>
<path d="M34.9,220.1 Q44.1,220.0 53.3,221.4" stroke="#fee08a" stroke-width="0.94"/>
<path d="M28.9,220.8 Q40.4,220.8 51.9,222.3" stroke="#f9b91e" stroke-width="0.78"/>
<path d="M35.9,219.9 Q44.8,220.1 53.6,221.9" stroke="#fcc636" stroke-width="0.54"/>
<path d="M33.3,219.2 Q43.1,220.2 52.9,222.7" stroke="#f9b91e" stroke-width="0.58"/>
<path d="M28.8,221.8 Q41.3,222.0 53.9,223.8" stroke="#fee08a" stroke-width="0.69"/>
<path d="M35.5,220.4 Q47.5,221.3 59.6,223.8" stroke="#fcc636" stroke-width="0.81"/>
<path d="M36.0,220.9 Q45.3,221.8 54.5,224.2" stroke="#fdd45a" stroke-width="0.97"/>
<path d="M32.0,220.2 Q42.4,221.4 52.8,224.1" stroke="#fee08a" stroke-width="0.99"/>
<path d="M31.0,220.6 Q43.3,221.7 55.6,224.3" stroke="#f9b91e" stroke-width="0.73"/>
<path d="M33.9,220.7 Q45.3,222.2 56.6,225.4" stroke="#fcc636" stroke-width="0.79"/>
<path d="M36.1,219.7 Q44.3,221.9 52.5,225.6" stroke="#f9b91e" stroke-width="0.80"/>
<path d="M31.1,220.9 Q41.3,222.5 51.6,225.7" stroke="#f9b91e" stroke-width="0.65"/>
<path d="M31.5,222.2 Q39.8,223.4 48.1,226.3" stroke="#fdd45a" stroke-width="0.66"/>
<path d="M30.3,222.3 Q40.2,223.5 50.1,226.2" stroke="#fee08a" stroke-width="0.82"/>
<path d="M29.3,221.8 Q43.5,223.7 57.6,227.2" stroke="#fdd45a" stroke-width="0.72"/>
</g>
<g id="seeds">
<g transform="translate(38.2,237.4) rotate(6)"><path d="M-6.25,0 C-3.75,-2.25 3.75,-2.25 6.25,0 C3.75,2.25 -3.75,2.25 -6.25,0 Z" fill="#d9aa4c" stroke="#2e2010" stroke-width="0.7"/><path d="M-5.0,0 H5.0" stroke="#2e2010" stroke-width="0.3" opacity="0.55"/></g>
<g transform="translate(48.8,237.4) rotate(62)"><path d="M-5.9,0 C-3.54,-2.375 3.54,-2.375 5.9,0 C3.54,2.375 -3.54,2.375 -5.9,0 Z" fill="#d9aa4c" stroke="#2e2010" stroke-width="0.7"/><path d="M-4.720000000000001,0 H4.720000000000001" stroke="#2e2010" stroke-width="0.3" opacity="0.55"/></g>
<g transform="translate(31.9,241.2) rotate(20)"><path d="M-4.75,0 C-2.85,-2.125 2.85,-2.125 4.75,0 C2.85,2.125 -2.85,2.125 -4.75,0 Z" fill="#d9aa4c" stroke="#2e2010" stroke-width="0.7"/><path d="M-3.8000000000000003,0 H3.8000000000000003" stroke="#2e2010" stroke-width="0.3" opacity="0.55"/></g>
<g transform="translate(33.6,245.8) rotate(58)"><path d="M-5.25,0 C-3.15,-2.25 3.15,-2.25 5.25,0 C3.15,2.25 -3.15,2.25 -5.25,0 Z" fill="#d9aa4c" stroke="#2e2010" stroke-width="0.7"/><path d="M-4.2,0 H4.2" stroke="#2e2010" stroke-width="0.3" opacity="0.55"/></g>
<g transform="translate(33.8,251.3) rotate(16)"><path d="M-5.9,0 C-3.54,-2.25 3.54,-2.25 5.9,0 C3.54,2.25 -3.54,2.25 -5.9,0 Z" fill="#d9aa4c" stroke="#2e2010" stroke-width="0.7"/><path d="M-4.720000000000001,0 H4.720000000000001" stroke="#2e2010" stroke-width="0.3" opacity="0.55"/></g>
<g transform="translate(42.5,245.7) rotate(-55)"><path d="M-5.6,0 C-3.36,-2.25 3.36,-2.25 5.6,0 C3.36,2.25 -3.36,2.25 -5.6,0 Z" fill="#d9aa4c" stroke="#2e2010" stroke-width="0.7"/><path d="M-4.4799999999999995,0 H4.4799999999999995" stroke="#2e2010" stroke-width="0.3" opacity="0.55"/></g>
<g transform="translate(46.4,249.8) rotate(68)"><path d="M-6.1,0 C-3.6599999999999997,-2.25 3.6599999999999997,-2.25 6.1,0 C3.6599999999999997,2.25 -3.6599999999999997,2.25 -6.1,0 Z" fill="#d9aa4c" stroke="#2e2010" stroke-width="0.7"/><path d="M-4.88,0 H4.88" stroke="#2e2010" stroke-width="0.3" opacity="0.55"/></g>
<g transform="translate(51.1,248.5) rotate(55)"><path d="M-5.9,0 C-3.54,-2.25 3.54,-2.25 5.9,0 C3.54,2.25 -3.54,2.25 -5.9,0 Z" fill="#d9aa4c" stroke="#2e2010" stroke-width="0.7"/><path d="M-4.720000000000001,0 H4.720000000000001" stroke="#2e2010" stroke-width="0.3" opacity="0.55"/></g>
<g transform="translate(39.7,243.3) rotate(-20)"><path d="M-3.5,0 C-2.1,-1.875 2.1,-1.875 3.5,0 C2.1,1.875 -2.1,1.875 -3.5,0 Z" fill="#d9aa4c" stroke="#2e2010" stroke-width="0.7"/><path d="M-2.8000000000000003,0 H2.8000000000000003" stroke="#2e2010" stroke-width="0.3" opacity="0.55"/></g>
</g>
<g id="ricepile">
<ellipse cx="574" cy="210" rx="11" ry="10" fill="#4a3618" opacity="0.8"/>
<g transform="translate(561.8,206.9) rotate(79)"><path d="M-6.0,0 C-3.5999999999999996,-2.3125 3.5999999999999996,-2.3125 6.0,0 C3.5999999999999996,2.3125 -3.5999999999999996,2.3125 -6.0,0 Z" fill="#deb35c" stroke="#2e2010" stroke-width="0.6"/><path d="M-4.800000000000001,0 H4.800000000000001" stroke="#2e2010" stroke-width="0.3" opacity="0.55"/></g>
<g transform="translate(581.2,228.7) rotate(35)"><path d="M-6.0,0 C-3.5999999999999996,-2.3125 3.5999999999999996,-2.3125 6.0,0 C3.5999999999999996,2.3125 -3.5999999999999996,2.3125 -6.0,0 Z" fill="#deb35c" stroke="#2e2010" stroke-width="0.6"/><path d="M-4.800000000000001,0 H4.800000000000001" stroke="#2e2010" stroke-width="0.3" opacity="0.55"/></g>
<g transform="translate(580.2,225.4) rotate(77)"><path d="M-6.0,0 C-3.5999999999999996,-2.3125 3.5999999999999996,-2.3125 6.0,0 C3.5999999999999996,2.3125 -3.5999999999999996,2.3125 -6.0,0 Z" fill="#deb35c" stroke="#2e2010" stroke-width="0.6"/><path d="M-4.800000000000001,0 H4.800000000000001" stroke="#2e2010" stroke-width="0.3" opacity="0.55"/></g>
<g transform="translate(575.8,207.2) rotate(38)"><path d="M-6.0,0 C-3.5999999999999996,-2.3125 3.5999999999999996,-2.3125 6.0,0 C3.5999999999999996,2.3125 -3.5999999999999996,2.3125 -6.0,0 Z" fill="#deb35c" stroke="#2e2010" stroke-width="0.6"/><path d="M-4.800000000000001,0 H4.800000000000001" stroke="#2e2010" stroke-width="0.3" opacity="0.55"/></g>
<g transform="translate(594.7,207.1) rotate(49)"><path d="M-6.0,0 C-3.5999999999999996,-2.3125 3.5999999999999996,-2.3125 6.0,0 C3.5999999999999996,2.3125 -3.5999999999999996,2.3125 -6.0,0 Z" fill="#deb35c" stroke="#2e2010" stroke-width="0.6"/><path d="M-4.800000000000001,0 H4.800000000000001" stroke="#2e2010" stroke-width="0.3" opacity="0.55"/></g>
<g transform="translate(562.2,200.6) rotate(28)"><path d="M-6.0,0 C-3.5999999999999996,-2.3125 3.5999999999999996,-2.3125 6.0,0 C3.5999999999999996,2.3125 -3.5999999999999996,2.3125 -6.0,0 Z" fill="#deb35c" stroke="#2e2010" stroke-width="0.6"/><path d="M-4.800000000000001,0 H4.800000000000001" stroke="#2e2010" stroke-width="0.3" opacity="0.55"/></g>
<g transform="translate(576.0,209.7) rotate(57)"><path d="M-6.0,0 C-3.5999999999999996,-2.3125 3.5999999999999996,-2.3125 6.0,0 C3.5999999999999996,2.3125 -3.5999999999999996,2.3125 -6.0,0 Z" fill="#deb35c" stroke="#2e2010" stroke-width="0.6"/><path d="M-4.800000000000001,0 H4.800000000000001" stroke="#2e2010" stroke-width="0.3" opacity="0.55"/></g>
<g transform="translate(561.6,216.1) rotate(20)"><path d="M-6.0,0 C-3.5999999999999996,-2.3125 3.5999999999999996,-2.3125 6.0,0 C3.5999999999999996,2.3125 -3.5999999999999996,2.3125 -6.0,0 Z" fill="#deb35c" stroke="#2e2010" stroke-width="0.6"/><path d="M-4.800000000000001,0 H4.800000000000001" stroke="#2e2010" stroke-width="0.3" opacity="0.55"/></g>
<g transform="translate(557.7,211.5) rotate(38)"><path d="M-6.0,0 C-3.5999999999999996,-2.3125 3.5999999999999996,-2.3125 6.0,0 C3.5999999999999996,2.3125 -3.5999999999999996,2.3125 -6.0,0 Z" fill="#deb35c" stroke="#2e2010" stroke-width="0.6"/><path d="M-4.800000000000001,0 H4.800000000000001" stroke="#2e2010" stroke-width="0.3" opacity="0.55"/></g>
<g transform="translate(560.2,220.2) rotate(43)"><path d="M-6.0,0 C-3.5999999999999996,-2.3125 3.5999999999999996,-2.3125 6.0,0 C3.5999999999999996,2.3125 -3.5999999999999996,2.3125 -6.0,0 Z" fill="#deb35c" stroke="#2e2010" stroke-width="0.6"/><path d="M-4.800000000000001,0 H4.800000000000001" stroke="#2e2010" stroke-width="0.3" opacity="0.55"/></g>
<g transform="translate(568.9,193.8) rotate(-26)"><path d="M-6.0,0 C-3.5999999999999996,-2.3125 3.5999999999999996,-2.3125 6.0,0 C3.5999999999999996,2.3125 -3.5999999999999996,2.3125 -6.0,0 Z" fill="#deb35c" stroke="#2e2010" stroke-width="0.6"/><path d="M-4.800000000000001,0 H4.800000000000001" stroke="#2e2010" stroke-width="0.3" opacity="0.55"/></g>
<g transform="translate(588.0,214.0) rotate(69)"><path d="M-6.0,0 C-3.5999999999999996,-2.3125 3.5999999999999996,-2.3125 6.0,0 C3.5999999999999996,2.3125 -3.5999999999999996,2.3125 -6.0,0 Z" fill="#deb35c" stroke="#2e2010" stroke-width="0.6"/><path d="M-4.800000000000001,0 H4.800000000000001" stroke="#2e2010" stroke-width="0.3" opacity="0.55"/></g>
<g transform="translate(581.0,202.0) rotate(-62)"><path d="M-6.0,0 C-3.5999999999999996,-2.3125 3.5999999999999996,-2.3125 6.0,0 C3.5999999999999996,2.3125 -3.5999999999999996,2.3125 -6.0,0 Z" fill="#deb35c" stroke="#2e2010" stroke-width="0.6"/><path d="M-4.800000000000001,0 H4.800000000000001" stroke="#2e2010" stroke-width="0.3" opacity="0.55"/></g>
<g transform="translate(573.3,210.0) rotate(15)"><path d="M-6.0,0 C-3.5999999999999996,-2.3125 3.5999999999999996,-2.3125 6.0,0 C3.5999999999999996,2.3125 -3.5999999999999996,2.3125 -6.0,0 Z" fill="#deb35c" stroke="#2e2010" stroke-width="0.6"/><path d="M-4.800000000000001,0 H4.800000000000001" stroke="#2e2010" stroke-width="0.3" opacity="0.55"/></g>
<g transform="translate(554.1,215.1) rotate(-56)"><path d="M-6.0,0 C-3.5999999999999996,-2.3125 3.5999999999999996,-2.3125 6.0,0 C3.5999999999999996,2.3125 -3.5999999999999996,2.3125 -6.0,0 Z" fill="#deb35c" stroke="#2e2010" stroke-width="0.6"/><path d="M-4.800000000000001,0 H4.800000000000001" stroke="#2e2010" stroke-width="0.3" opacity="0.55"/></g>
<g transform="translate(578.8,225.1) rotate(41)"><path d="M-6.0,0 C-3.5999999999999996,-2.3125 3.5999999999999996,-2.3125 6.0,0 C3.5999999999999996,2.3125 -3.5999999999999996,2.3125 -6.0,0 Z" fill="#deb35c" stroke="#2e2010" stroke-width="0.6"/><path d="M-4.800000000000001,0 H4.800000000000001" stroke="#2e2010" stroke-width="0.3" opacity="0.55"/></g>
<g transform="translate(571.7,215.4) rotate(-51)"><path d="M-6.0,0 C-3.5999999999999996,-2.3125 3.5999999999999996,-2.3125 6.0,0 C3.5999999999999996,2.3125 -3.5999999999999996,2.3125 -6.0,0 Z" fill="#deb35c" stroke="#2e2010" stroke-width="0.6"/><path d="M-4.800000000000001,0 H4.800000000000001" stroke="#2e2010" stroke-width="0.3" opacity="0.55"/></g>
<g transform="translate(574.1,216.9) rotate(62)"><path d="M-6.0,0 C-3.5999999999999996,-2.3125 3.5999999999999996,-2.3125 6.0,0 C3.5999999999999996,2.3125 -3.5999999999999996,2.3125 -6.0,0 Z" fill="#deb35c" stroke="#2e2010" stroke-width="0.6"/><path d="M-4.800000000000001,0 H4.800000000000001" stroke="#2e2010" stroke-width="0.3" opacity="0.55"/></g>
<g transform="translate(560.7,212.6) rotate(46)"><path d="M-6.0,0 C-3.5999999999999996,-2.3125 3.5999999999999996,-2.3125 6.0,0 C3.5999999999999996,2.3125 -3.5999999999999996,2.3125 -6.0,0 Z" fill="#deb35c" stroke="#2e2010" stroke-width="0.6"/><path d="M-4.800000000000001,0 H4.800000000000001" stroke="#2e2010" stroke-width="0.3" opacity="0.55"/></g>
<g transform="translate(578.8,223.1) rotate(49)"><path d="M-6.0,0 C-3.5999999999999996,-2.3125 3.5999999999999996,-2.3125 6.0,0 C3.5999999999999996,2.3125 -3.5999999999999996,2.3125 -6.0,0 Z" fill="#deb35c" stroke="#2e2010" stroke-width="0.6"/><path d="M-4.800000000000001,0 H4.800000000000001" stroke="#2e2010" stroke-width="0.3" opacity="0.55"/></g>
<g transform="translate(564.6,218.4) rotate(12)"><path d="M-6.0,0 C-3.5999999999999996,-2.3125 3.5999999999999996,-2.3125 6.0,0 C3.5999999999999996,2.3125 -3.5999999999999996,2.3125 -6.0,0 Z" fill="#deb35c" stroke="#2e2010" stroke-width="0.6"/><path d="M-4.800000000000001,0 H4.800000000000001" stroke="#2e2010" stroke-width="0.3" opacity="0.55"/></g>
<g transform="translate(593.4,208.6) rotate(62)"><path d="M-6.0,0 C-3.5999999999999996,-2.3125 3.5999999999999996,-2.3125 6.0,0 C3.5999999999999996,2.3125 -3.5999999999999996,2.3125 -6.0,0 Z" fill="#deb35c" stroke="#2e2010" stroke-width="0.6"/><path d="M-4.800000000000001,0 H4.800000000000001" stroke="#2e2010" stroke-width="0.3" opacity="0.55"/></g>
<g transform="translate(578.9,229.9) rotate(-47)"><path d="M-6.0,0 C-3.5999999999999996,-2.3125 3.5999999999999996,-2.3125 6.0,0 C3.5999999999999996,2.3125 -3.5999999999999996,2.3125 -6.0,0 Z" fill="#deb35c" stroke="#2e2010" stroke-width="0.6"/><path d="M-4.800000000000001,0 H4.800000000000001" stroke="#2e2010" stroke-width="0.3" opacity="0.55"/></g>
<g transform="translate(560.1,204.6) rotate(68)"><path d="M-6.0,0 C-3.5999999999999996,-2.3125 3.5999999999999996,-2.3125 6.0,0 C3.5999999999999996,2.3125 -3.5999999999999996,2.3125 -6.0,0 Z" fill="#deb35c" stroke="#2e2010" stroke-width="0.6"/><path d="M-4.800000000000001,0 H4.800000000000001" stroke="#2e2010" stroke-width="0.3" opacity="0.55"/></g>
<g transform="translate(573.6,219.3) rotate(62)"><path d="M-6.0,0 C-3.5999999999999996,-2.3125 3.5999999999999996,-2.3125 6.0,0 C3.5999999999999996,2.3125 -3.5999999999999996,2.3125 -6.0,0 Z" fill="#deb35c" stroke="#2e2010" stroke-width="0.6"/><path d="M-4.800000000000001,0 H4.800000000000001" stroke="#2e2010" stroke-width="0.3" opacity="0.55"/></g>
<g transform="translate(583.1,215.8) rotate(65)"><path d="M-6.0,0 C-3.5999999999999996,-2.3125 3.5999999999999996,-2.3125 6.0,0 C3.5999999999999996,2.3125 -3.5999999999999996,2.3125 -6.0,0 Z" fill="#deb35c" stroke="#2e2010" stroke-width="0.6"/><path d="M-4.800000000000001,0 H4.800000000000001" stroke="#2e2010" stroke-width="0.3" opacity="0.55"/></g>
<g transform="translate(590.2,213.0) rotate(-32)"><path d="M-6.0,0 C-3.5999999999999996,-2.3125 3.5999999999999996,-2.3125 6.0,0 C3.5999999999999996,2.3125 -3.5999999999999996,2.3125 -6.0,0 Z" fill="#deb35c" stroke="#2e2010" stroke-width="0.6"/><path d="M-4.800000000000001,0 H4.800000000000001" stroke="#2e2010" stroke-width="0.3" opacity="0.55"/></g>
<g transform="translate(586.7,208.3) rotate(85)"><path d="M-6.0,0 C-3.5999999999999996,-2.3125 3.5999999999999996,-2.3125 6.0,0 C3.5999999999999996,2.3125 -3.5999999999999996,2.3125 -6.0,0 Z" fill="#deb35c" stroke="#2e2010" stroke-width="0.6"/><path d="M-4.800000000000001,0 H4.800000000000001" stroke="#2e2010" stroke-width="0.3" opacity="0.55"/></g>
<g transform="translate(569.3,215.4) rotate(39)"><path d="M-6.0,0 C-3.5999999999999996,-2.3125 3.5999999999999996,-2.3125 6.0,0 C3.5999999999999996,2.3125 -3.5999999999999996,2.3125 -6.0,0 Z" fill="#deb35c" stroke="#2e2010" stroke-width="0.6"/><path d="M-4.800000000000001,0 H4.800000000000001" stroke="#2e2010" stroke-width="0.3" opacity="0.55"/></g>
<g transform="translate(582.4,194.0) rotate(24)"><path d="M-6.0,0 C-3.5999999999999996,-2.3125 3.5999999999999996,-2.3125 6.0,0 C3.5999999999999996,2.3125 -3.5999999999999996,2.3125 -6.0,0 Z" fill="#deb35c" stroke="#2e2010" stroke-width="0.6"/><path d="M-4.800000000000001,0 H4.800000000000001" stroke="#2e2010" stroke-width="0.3" opacity="0.55"/></g>
<g transform="translate(569.3,206.8) rotate(30)"><path d="M-6.0,0 C-3.5999999999999996,-2.3125 3.5999999999999996,-2.3125 6.0,0 C3.5999999999999996,2.3125 -3.5999999999999996,2.3125 -6.0,0 Z" fill="#deb35c" stroke="#2e2010" stroke-width="0.6"/><path d="M-4.800000000000001,0 H4.800000000000001" stroke="#2e2010" stroke-width="0.3" opacity="0.55"/></g>
<g transform="translate(589.4,198.2) rotate(58)"><path d="M-6.0,0 C-3.5999999999999996,-2.3125 3.5999999999999996,-2.3125 6.0,0 C3.5999999999999996,2.3125 -3.5999999999999996,2.3125 -6.0,0 Z" fill="#deb35c" stroke="#2e2010" stroke-width="0.6"/><path d="M-4.800000000000001,0 H4.800000000000001" stroke="#2e2010" stroke-width="0.3" opacity="0.55"/></g>
<g transform="translate(576.5,213.5) rotate(42)"><path d="M-6.0,0 C-3.5999999999999996,-2.3125 3.5999999999999996,-2.3125 6.0,0 C3.5999999999999996,2.3125 -3.5999999999999996,2.3125 -6.0,0 Z" fill="#deb35c" stroke="#2e2010" stroke-width="0.6"/><path d="M-4.800000000000001,0 H4.800000000000001" stroke="#2e2010" stroke-width="0.3" opacity="0.55"/></g>
<g transform="translate(571.5,203.4) rotate(4)"><path d="M-6.0,0 C-3.5999999999999996,-2.3125 3.5999999999999996,-2.3125 6.0,0 C3.5999999999999996,2.3125 -3.5999999999999996,2.3125 -6.0,0 Z" fill="#deb35c" stroke="#2e2010" stroke-width="0.6"/><path d="M-4.800000000000001,0 H4.800000000000001" stroke="#2e2010" stroke-width="0.3" opacity="0.55"/></g>
<g transform="translate(553.8,212.6) rotate(30)"><path d="M-6.0,0 C-3.5999999999999996,-2.3125 3.5999999999999996,-2.3125 6.0,0 C3.5999999999999996,2.3125 -3.5999999999999996,2.3125 -6.0,0 Z" fill="#deb35c" stroke="#2e2010" stroke-width="0.6"/><path d="M-4.800000000000001,0 H4.800000000000001" stroke="#2e2010" stroke-width="0.3" opacity="0.55"/></g>
<g transform="translate(589.9,218.5) rotate(20)"><path d="M-6.0,0 C-3.5999999999999996,-2.3125 3.5999999999999996,-2.3125 6.0,0 C3.5999999999999996,2.3125 -3.5999999999999996,2.3125 -6.0,0 Z" fill="#deb35c" stroke="#2e2010" stroke-width="0.6"/><path d="M-4.800000000000001,0 H4.800000000000001" stroke="#2e2010" stroke-width="0.3" opacity="0.55"/></g>
<g transform="translate(561.7,201.1) rotate(66)"><path d="M-6.0,0 C-3.5999999999999996,-2.3125 3.5999999999999996,-2.3125 6.0,0 C3.5999999999999996,2.3125 -3.5999999999999996,2.3125 -6.0,0 Z" fill="#deb35c" stroke="#2e2010" stroke-width="0.6"/><path d="M-4.800000000000001,0 H4.800000000000001" stroke="#2e2010" stroke-width="0.3" opacity="0.55"/></g>
<g transform="translate(579.8,230.1) rotate(53)"><path d="M-6.0,0 C-3.5999999999999996,-2.3125 3.5999999999999996,-2.3125 6.0,0 C3.5999999999999996,2.3125 -3.5999999999999996,2.3125 -6.0,0 Z" fill="#deb35c" stroke="#2e2010" stroke-width="0.6"/><path d="M-4.800000000000001,0 H4.800000000000001" stroke="#2e2010" stroke-width="0.3" opacity="0.55"/></g>
<g transform="translate(574.1,223.3) rotate(55)"><path d="M-6.0,0 C-3.5999999999999996,-2.3125 3.5999999999999996,-2.3125 6.0,0 C3.5999999999999996,2.3125 -3.5999999999999996,2.3125 -6.0,0 Z" fill="#deb35c" stroke="#2e2010" stroke-width="0.6"/><path d="M-4.800000000000001,0 H4.800000000000001" stroke="#2e2010" stroke-width="0.3" opacity="0.55"/></g>
<g transform="translate(563.6,206.7) rotate(43)"><path d="M-6.0,0 C-3.5999999999999996,-2.3125 3.5999999999999996,-2.3125 6.0,0 C3.5999999999999996,2.3125 -3.5999999999999996,2.3125 -6.0,0 Z" fill="#deb35c" stroke="#2e2010" stroke-width="0.6"/><path d="M-4.800000000000001,0 H4.800000000000001" stroke="#2e2010" stroke-width="0.3" opacity="0.55"/></g>
<g transform="translate(568.0,213.3) rotate(-27)"><path d="M-6.0,0 C-3.5999999999999996,-2.3125 3.5999999999999996,-2.3125 6.0,0 C3.5999999999999996,2.3125 -3.5999999999999996,2.3125 -6.0,0 Z" fill="#deb35c" stroke="#2e2010" stroke-width="0.6"/><path d="M-4.800000000000001,0 H4.800000000000001" stroke="#2e2010" stroke-width="0.3" opacity="0.55"/></g>
<g transform="translate(559.3,203.3) rotate(51)"><path d="M-6.0,0 C-3.5999999999999996,-2.3125 3.5999999999999996,-2.3125 6.0,0 C3.5999999999999996,2.3125 -3.5999999999999996,2.3125 -6.0,0 Z" fill="#deb35c" stroke="#2e2010" stroke-width="0.6"/><path d="M-4.800000000000001,0 H4.800000000000001" stroke="#2e2010" stroke-width="0.3" opacity="0.55"/></g>
<g transform="translate(553.8,214.6) rotate(-27)"><path d="M-6.0,0 C-3.5999999999999996,-2.3125 3.5999999999999996,-2.3125 6.0,0 C3.5999999999999996,2.3125 -3.5999999999999996,2.3125 -6.0,0 Z" fill="#deb35c" stroke="#2e2010" stroke-width="0.6"/><path d="M-4.800000000000001,0 H4.800000000000001" stroke="#2e2010" stroke-width="0.3" opacity="0.55"/></g>
<g transform="translate(594.8,214.2) rotate(38)"><path d="M-6.0,0 C-3.5999999999999996,-2.3125 3.5999999999999996,-2.3125 6.0,0 C3.5999999999999996,2.3125 -3.5999999999999996,2.3125 -6.0,0 Z" fill="#deb35c" stroke="#2e2010" stroke-width="0.6"/><path d="M-4.800000000000001,0 H4.800000000000001" stroke="#2e2010" stroke-width="0.3" opacity="0.55"/></g>
<g transform="translate(572.5,215.1) rotate(58)"><path d="M-6.0,0 C-3.5999999999999996,-2.3125 3.5999999999999996,-2.3125 6.0,0 C3.5999999999999996,2.3125 -3.5999999999999996,2.3125 -6.0,0 Z" fill="#deb35c" stroke="#2e2010" stroke-width="0.6"/><path d="M-4.800000000000001,0 H4.800000000000001" stroke="#2e2010" stroke-width="0.3" opacity="0.55"/></g>
<g transform="translate(569.9,210.3) rotate(66)"><path d="M-6.0,0 C-3.5999999999999996,-2.3125 3.5999999999999996,-2.3125 6.0,0 C3.5999999999999996,2.3125 -3.5999999999999996,2.3125 -6.0,0 Z" fill="#deb35c" stroke="#2e2010" stroke-width="0.6"/><path d="M-4.800000000000001,0 H4.800000000000001" stroke="#2e2010" stroke-width="0.3" opacity="0.55"/></g>
<g transform="translate(568.9,195.3) rotate(-32)"><path d="M-6.0,0 C-3.5999999999999996,-2.3125 3.5999999999999996,-2.3125 6.0,0 C3.5999999999999996,2.3125 -3.5999999999999996,2.3125 -6.0,0 Z" fill="#deb35c" stroke="#2e2010" stroke-width="0.6"/><path d="M-4.800000000000001,0 H4.800000000000001" stroke="#2e2010" stroke-width="0.3" opacity="0.55"/></g>
<g transform="translate(587.8,202.1) rotate(-48)"><path d="M-6.0,0 C-3.5999999999999996,-2.3125 3.5999999999999996,-2.3125 6.0,0 C3.5999999999999996,2.3125 -3.5999999999999996,2.3125 -6.0,0 Z" fill="#deb35c" stroke="#2e2010" stroke-width="0.6"/><path d="M-4.800000000000001,0 H4.800000000000001" stroke="#2e2010" stroke-width="0.3" opacity="0.55"/></g>
<g transform="translate(571.5,211.5) rotate(62)"><path d="M-6.0,0 C-3.5999999999999996,-2.3125 3.5999999999999996,-2.3125 6.0,0 C3.5999999999999996,2.3125 -3.5999999999999996,2.3125 -6.0,0 Z" fill="#deb35c" stroke="#2e2010" stroke-width="0.6"/><path d="M-4.800000000000001,0 H4.800000000000001" stroke="#2e2010" stroke-width="0.3" opacity="0.55"/></g>
<g transform="translate(563.7,205.9) rotate(58)"><path d="M-6.0,0 C-3.5999999999999996,-2.3125 3.5999999999999996,-2.3125 6.0,0 C3.5999999999999996,2.3125 -3.5999999999999996,2.3125 -6.0,0 Z" fill="#deb35c" stroke="#2e2010" stroke-width="0.6"/><path d="M-4.800000000000001,0 H4.800000000000001" stroke="#2e2010" stroke-width="0.3" opacity="0.55"/></g>
<g transform="translate(577.6,214.6) rotate(11)"><path d="M-6.0,0 C-3.5999999999999996,-2.3125 3.5999999999999996,-2.3125 6.0,0 C3.5999999999999996,2.3125 -3.5999999999999996,2.3125 -6.0,0 Z" fill="#deb35c" stroke="#2e2010" stroke-width="0.6"/><path d="M-4.800000000000001,0 H4.800000000000001" stroke="#2e2010" stroke-width="0.3" opacity="0.55"/></g>
<g transform="translate(560.5,222.3) rotate(64)"><path d="M-6.0,0 C-3.5999999999999996,-2.3125 3.5999999999999996,-2.3125 6.0,0 C3.5999999999999996,2.3125 -3.5999999999999996,2.3125 -6.0,0 Z" fill="#deb35c" stroke="#2e2010" stroke-width="0.6"/><path d="M-4.800000000000001,0 H4.800000000000001" stroke="#2e2010" stroke-width="0.3" opacity="0.55"/></g>
<g transform="translate(561.1,208.3) rotate(39)"><path d="M-6.0,0 C-3.5999999999999996,-2.3125 3.5999999999999996,-2.3125 6.0,0 C3.5999999999999996,2.3125 -3.5999999999999996,2.3125 -6.0,0 Z" fill="#deb35c" stroke="#2e2010" stroke-width="0.6"/><path d="M-4.800000000000001,0 H4.800000000000001" stroke="#2e2010" stroke-width="0.3" opacity="0.55"/></g>
<g transform="translate(572.0,210.1) rotate(72)"><path d="M-6.0,0 C-3.5999999999999996,-2.3125 3.5999999999999996,-2.3125 6.0,0 C3.5999999999999996,2.3125 -3.5999999999999996,2.3125 -6.0,0 Z" fill="#deb35c" stroke="#2e2010" stroke-width="0.6"/><path d="M-4.800000000000001,0 H4.800000000000001" stroke="#2e2010" stroke-width="0.3" opacity="0.55"/></g>
<g transform="translate(589.9,224.4) rotate(68)"><path d="M-6.0,0 C-3.5999999999999996,-2.3125 3.5999999999999996,-2.3125 6.0,0 C3.5999999999999996,2.3125 -3.5999999999999996,2.3125 -6.0,0 Z" fill="#deb35c" stroke="#2e2010" stroke-width="0.6"/><path d="M-4.800000000000001,0 H4.800000000000001" stroke="#2e2010" stroke-width="0.3" opacity="0.55"/></g>
<g transform="translate(584.9,203.6) rotate(-33)"><path d="M-6.0,0 C-3.5999999999999996,-2.3125 3.5999999999999996,-2.3125 6.0,0 C3.5999999999999996,2.3125 -3.5999999999999996,2.3125 -6.0,0 Z" fill="#deb35c" stroke="#2e2010" stroke-width="0.6"/><path d="M-4.800000000000001,0 H4.800000000000001" stroke="#2e2010" stroke-width="0.3" opacity="0.55"/></g>
<g transform="translate(579.0,226.8) rotate(54)"><path d="M-6.0,0 C-3.5999999999999996,-2.3125 3.5999999999999996,-2.3125 6.0,0 C3.5999999999999996,2.3125 -3.5999999999999996,2.3125 -6.0,0 Z" fill="#deb35c" stroke="#2e2010" stroke-width="0.6"/><path d="M-4.800000000000001,0 H4.800000000000001" stroke="#2e2010" stroke-width="0.3" opacity="0.55"/></g>
<g transform="translate(584.0,207.0) rotate(86)"><path d="M-6.0,0 C-3.5999999999999996,-2.3125 3.5999999999999996,-2.3125 6.0,0 C3.5999999999999996,2.3125 -3.5999999999999996,2.3125 -6.0,0 Z" fill="#deb35c" stroke="#2e2010" stroke-width="0.6"/><path d="M-4.800000000000001,0 H4.800000000000001" stroke="#2e2010" stroke-width="0.3" opacity="0.55"/></g>
<g transform="translate(568.6,202.7) rotate(22)"><path d="M-6.0,0 C-3.5999999999999996,-2.3125 3.5999999999999996,-2.3125 6.0,0 C3.5999999999999996,2.3125 -3.5999999999999996,2.3125 -6.0,0 Z" fill="#deb35c" stroke="#2e2010" stroke-width="0.6"/><path d="M-4.800000000000001,0 H4.800000000000001" stroke="#2e2010" stroke-width="0.3" opacity="0.55"/></g>
<g transform="translate(574.5,193.7) rotate(26)"><path d="M-6.0,0 C-3.5999999999999996,-2.3125 3.5999999999999996,-2.3125 6.0,0 C3.5999999999999996,2.3125 -3.5999999999999996,2.3125 -6.0,0 Z" fill="#deb35c" stroke="#2e2010" stroke-width="0.6"/><path d="M-4.800000000000001,0 H4.800000000000001" stroke="#2e2010" stroke-width="0.3" opacity="0.55"/></g>
<g transform="translate(563.7,205.9) rotate(-35)"><path d="M-6.0,0 C-3.5999999999999996,-2.3125 3.5999999999999996,-2.3125 6.0,0 C3.5999999999999996,2.3125 -3.5999999999999996,2.3125 -6.0,0 Z" fill="#deb35c" stroke="#2e2010" stroke-width="0.6"/><path d="M-4.800000000000001,0 H4.800000000000001" stroke="#2e2010" stroke-width="0.3" opacity="0.55"/></g>
<g transform="translate(570.3,216.2) rotate(63)"><path d="M-6.0,0 C-3.5999999999999996,-2.3125 3.5999999999999996,-2.3125 6.0,0 C3.5999999999999996,2.3125 -3.5999999999999996,2.3125 -6.0,0 Z" fill="#deb35c" stroke="#2e2010" stroke-width="0.6"/><path d="M-4.800000000000001,0 H4.800000000000001" stroke="#2e2010" stroke-width="0.3" opacity="0.55"/></g>
<g transform="translate(570.5,231.0) rotate(44)"><path d="M-6.0,0 C-3.5999999999999996,-2.3125 3.5999999999999996,-2.3125 6.0,0 C3.5999999999999996,2.3125 -3.5999999999999996,2.3125 -6.0,0 Z" fill="#deb35c" stroke="#2e2010" stroke-width="0.6"/><path d="M-4.800000000000001,0 H4.800000000000001" stroke="#2e2010" stroke-width="0.3" opacity="0.55"/></g>
<g transform="translate(586.0,205.7) rotate(-57)"><path d="M-6.0,0 C-3.5999999999999996,-2.3125 3.5999999999999996,-2.3125 6.0,0 C3.5999999999999996,2.3125 -3.5999999999999996,2.3125 -6.0,0 Z" fill="#deb35c" stroke="#2e2010" stroke-width="0.6"/><path d="M-4.800000000000001,0 H4.800000000000001" stroke="#2e2010" stroke-width="0.3" opacity="0.55"/></g>
<g transform="translate(567.3,199.5) rotate(64)"><path d="M-6.0,0 C-3.5999999999999996,-2.3125 3.5999999999999996,-2.3125 6.0,0 C3.5999999999999996,2.3125 -3.5999999999999996,2.3125 -6.0,0 Z" fill="#deb35c" stroke="#2e2010" stroke-width="0.6"/><path d="M-4.800000000000001,0 H4.800000000000001" stroke="#2e2010" stroke-width="0.3" opacity="0.55"/></g>
<g transform="translate(578.2,212.3) rotate(58)"><path d="M-6.0,0 C-3.5999999999999996,-2.3125 3.5999999999999996,-2.3125 6.0,0 C3.5999999999999996,2.3125 -3.5999999999999996,2.3125 -6.0,0 Z" fill="#deb35c" stroke="#2e2010" stroke-width="0.6"/><path d="M-4.800000000000001,0 H4.800000000000001" stroke="#2e2010" stroke-width="0.3" opacity="0.55"/></g>
<g transform="translate(558.3,204.4) rotate(7)"><path d="M-6.0,0 C-3.5999999999999996,-2.3125 3.5999999999999996,-2.3125 6.0,0 C3.5999999999999996,2.3125 -3.5999999999999996,2.3125 -6.0,0 Z" fill="#deb35c" stroke="#2e2010" stroke-width="0.6"/><path d="M-4.800000000000001,0 H4.800000000000001" stroke="#2e2010" stroke-width="0.3" opacity="0.55"/></g>
<g transform="translate(564.5,200.4) rotate(-56)"><path d="M-6.0,0 C-3.5999999999999996,-2.3125 3.5999999999999996,-2.3125 6.0,0 C3.5999999999999996,2.3125 -3.5999999999999996,2.3125 -6.0,0 Z" fill="#deb35c" stroke="#2e2010" stroke-width="0.6"/><path d="M-4.800000000000001,0 H4.800000000000001" stroke="#2e2010" stroke-width="0.3" opacity="0.55"/></g>
<g transform="translate(575.0,209.7) rotate(24)"><path d="M-6.0,0 C-3.5999999999999996,-2.3125 3.5999999999999996,-2.3125 6.0,0 C3.5999999999999996,2.3125 -3.5999999999999996,2.3125 -6.0,0 Z" fill="#deb35c" stroke="#2e2010" stroke-width="0.6"/><path d="M-4.800000000000001,0 H4.800000000000001" stroke="#2e2010" stroke-width="0.3" opacity="0.55"/></g>
<g transform="translate(592.6,209.7) rotate(69)"><path d="M-6.0,0 C-3.5999999999999996,-2.3125 3.5999999999999996,-2.3125 6.0,0 C3.5999999999999996,2.3125 -3.5999999999999996,2.3125 -6.0,0 Z" fill="#deb35c" stroke="#2e2010" stroke-width="0.6"/><path d="M-4.800000000000001,0 H4.800000000000001" stroke="#2e2010" stroke-width="0.3" opacity="0.55"/></g>
<g transform="translate(564.9,198.8) rotate(-23)"><path d="M-6.0,0 C-3.5999999999999996,-2.3125 3.5999999999999996,-2.3125 6.0,0 C3.5999999999999996,2.3125 -3.5999999999999996,2.3125 -6.0,0 Z" fill="#deb35c" stroke="#2e2010" stroke-width="0.6"/><path d="M-4.800000000000001,0 H4.800000000000001" stroke="#2e2010" stroke-width="0.3" opacity="0.55"/></g>
<g transform="translate(579.3,226.8) rotate(76)"><path d="M-6.0,0 C-3.5999999999999996,-2.3125 3.5999999999999996,-2.3125 6.0,0 C3.5999999999999996,2.3125 -3.5999999999999996,2.3125 -6.0,0 Z" fill="#deb35c" stroke="#2e2010" stroke-width="0.6"/><path d="M-4.800000000000001,0 H4.800000000000001" stroke="#2e2010" stroke-width="0.3" opacity="0.55"/></g>
<g transform="translate(574.6,194.9) rotate(38)"><path d="M-6.0,0 C-3.5999999999999996,-2.3125 3.5999999999999996,-2.3125 6.0,0 C3.5999999999999996,2.3125 -3.5999999999999996,2.3125 -6.0,0 Z" fill="#deb35c" stroke="#2e2010" stroke-width="0.6"/><path d="M-4.800000000000001,0 H4.800000000000001" stroke="#2e2010" stroke-width="0.3" opacity="0.55"/></g>
<g transform="translate(573.0,218.5) rotate(-29)"><path d="M-6.0,0 C-3.5999999999999996,-2.3125 3.5999999999999996,-2.3125 6.0,0 C3.5999999999999996,2.3125 -3.5999999999999996,2.3125 -6.0,0 Z" fill="#deb35c" stroke="#2e2010" stroke-width="0.6"/><path d="M-4.800000000000001,0 H4.800000000000001" stroke="#2e2010" stroke-width="0.3" opacity="0.55"/></g>
<g transform="translate(553.2,211.4) rotate(48)"><path d="M-6.0,0 C-3.5999999999999996,-2.3125 3.5999999999999996,-2.3125 6.0,0 C3.5999999999999996,2.3125 -3.5999999999999996,2.3125 -6.0,0 Z" fill="#deb35c" stroke="#2e2010" stroke-width="0.6"/><path d="M-4.800000000000001,0 H4.800000000000001" stroke="#2e2010" stroke-width="0.3" opacity="0.55"/></g>
<g transform="translate(589.5,201.7) rotate(69)"><path d="M-6.0,0 C-3.5999999999999996,-2.3125 3.5999999999999996,-2.3125 6.0,0 C3.5999999999999996,2.3125 -3.5999999999999996,2.3125 -6.0,0 Z" fill="#deb35c" stroke="#2e2010" stroke-width="0.6"/><path d="M-4.800000000000001,0 H4.800000000000001" stroke="#2e2010" stroke-width="0.3" opacity="0.55"/></g>
<g transform="translate(558.7,223.8) rotate(79)"><path d="M-6.0,0 C-3.5999999999999996,-2.3125 3.5999999999999996,-2.3125 6.0,0 C3.5999999999999996,2.3125 -3.5999999999999996,2.3125 -6.0,0 Z" fill="#deb35c" stroke="#2e2010" stroke-width="0.6"/><path d="M-4.800000000000001,0 H4.800000000000001" stroke="#2e2010" stroke-width="0.3" opacity="0.55"/></g>
<g transform="translate(587.6,203.3) rotate(-54)"><path d="M-6.0,0 C-3.5999999999999996,-2.3125 3.5999999999999996,-2.3125 6.0,0 C3.5999999999999996,2.3125 -3.5999999999999996,2.3125 -6.0,0 Z" fill="#deb35c" stroke="#2e2010" stroke-width="0.6"/><path d="M-4.800000000000001,0 H4.800000000000001" stroke="#2e2010" stroke-width="0.3" opacity="0.55"/></g>
<g transform="translate(557.5,211.2) rotate(-31)"><path d="M-6.0,0 C-3.5999999999999996,-2.3125 3.5999999999999996,-2.3125 6.0,0 C3.5999999999999996,2.3125 -3.5999999999999996,2.3125 -6.0,0 Z" fill="#deb35c" stroke="#2e2010" stroke-width="0.6"/><path d="M-4.800000000000001,0 H4.800000000000001" stroke="#2e2010" stroke-width="0.3" opacity="0.55"/></g>
<g transform="translate(578.6,226.5) rotate(52)"><path d="M-6.0,0 C-3.5999999999999996,-2.3125 3.5999999999999996,-2.3125 6.0,0 C3.5999999999999996,2.3125 -3.5999999999999996,2.3125 -6.0,0 Z" fill="#deb35c" stroke="#2e2010" stroke-width="0.6"/><path d="M-4.800000000000001,0 H4.800000000000001" stroke="#2e2010" stroke-width="0.3" opacity="0.55"/></g>
<g transform="translate(574.3,217.1) rotate(-47)"><path d="M-6.0,0 C-3.5999999999999996,-2.3125 3.5999999999999996,-2.3125 6.0,0 C3.5999999999999996,2.3125 -3.5999999999999996,2.3125 -6.0,0 Z" fill="#deb35c" stroke="#2e2010" stroke-width="0.6"/><path d="M-4.800000000000001,0 H4.800000000000001" stroke="#2e2010" stroke-width="0.3" opacity="0.55"/></g>
<g transform="translate(553.4,206.9) rotate(-34)"><path d="M-6.0,0 C-3.5999999999999996,-2.3125 3.5999999999999996,-2.3125 6.0,0 C3.5999999999999996,2.3125 -3.5999999999999996,2.3125 -6.0,0 Z" fill="#deb35c" stroke="#2e2010" stroke-width="0.6"/><path d="M-4.800000000000001,0 H4.800000000000001" stroke="#2e2010" stroke-width="0.3" opacity="0.55"/></g>
<g transform="translate(591.4,213.1) rotate(28)"><path d="M-6.0,0 C-3.5999999999999996,-2.3125 3.5999999999999996,-2.3125 6.0,0 C3.5999999999999996,2.3125 -3.5999999999999996,2.3125 -6.0,0 Z" fill="#deb35c" stroke="#2e2010" stroke-width="0.6"/><path d="M-4.800000000000001,0 H4.800000000000001" stroke="#2e2010" stroke-width="0.3" opacity="0.55"/></g>
<g transform="translate(561.7,207.7) rotate(5)"><path d="M-6.0,0 C-3.5999999999999996,-2.3125 3.5999999999999996,-2.3125 6.0,0 C3.5999999999999996,2.3125 -3.5999999999999996,2.3125 -6.0,0 Z" fill="#deb35c" stroke="#2e2010" stroke-width="0.6"/><path d="M-4.800000000000001,0 H4.800000000000001" stroke="#2e2010" stroke-width="0.3" opacity="0.55"/></g>
<g transform="translate(574.9,209.4) rotate(69)"><path d="M-6.0,0 C-3.5999999999999996,-2.3125 3.5999999999999996,-2.3125 6.0,0 C3.5999999999999996,2.3125 -3.5999999999999996,2.3125 -6.0,0 Z" fill="#deb35c" stroke="#2e2010" stroke-width="0.6"/><path d="M-4.800000000000001,0 H4.800000000000001" stroke="#2e2010" stroke-width="0.3" opacity="0.55"/></g>
<g transform="translate(571.4,211.0) rotate(50)"><path d="M-6.0,0 C-3.5999999999999996,-2.3125 3.5999999999999996,-2.3125 6.0,0 C3.5999999999999996,2.3125 -3.5999999999999996,2.3125 -6.0,0 Z" fill="#deb35c" stroke="#2e2010" stroke-width="0.6"/><path d="M-4.800000000000001,0 H4.800000000000001" stroke="#2e2010" stroke-width="0.3" opacity="0.55"/></g>
<g transform="translate(577.8,216.4) rotate(41)"><path d="M-6.0,0 C-3.5999999999999996,-2.3125 3.5999999999999996,-2.3125 6.0,0 C3.5999999999999996,2.3125 -3.5999999999999996,2.3125 -6.0,0 Z" fill="#deb35c" stroke="#2e2010" stroke-width="0.6"/><path d="M-4.800000000000001,0 H4.800000000000001" stroke="#2e2010" stroke-width="0.3" opacity="0.55"/></g>
<g transform="translate(567.7,199.3) rotate(87)"><path d="M-6.0,0 C-3.5999999999999996,-2.3125 3.5999999999999996,-2.3125 6.0,0 C3.5999999999999996,2.3125 -3.5999999999999996,2.3125 -6.0,0 Z" fill="#deb35c" stroke="#2e2010" stroke-width="0.6"/><path d="M-4.800000000000001,0 H4.800000000000001" stroke="#2e2010" stroke-width="0.3" opacity="0.55"/></g>
<g transform="translate(580.5,189.6) rotate(65)"><path d="M-6.0,0 C-3.5999999999999996,-2.25 3.5999999999999996,-2.25 6.0,0 C3.5999999999999996,2.25 -3.5999999999999996,2.25 -6.0,0 Z" fill="#deb35c" stroke="#2e2010" stroke-width="0.6"/><path d="M-4.800000000000001,0 H4.800000000000001" stroke="#2e2010" stroke-width="0.3" opacity="0.55"/></g>
<g transform="translate(568.7,190.4) rotate(5)"><path d="M-6.25,0 C-3.75,-2.25 3.75,-2.25 6.25,0 C3.75,2.25 -3.75,2.25 -6.25,0 Z" fill="#deb35c" stroke="#2e2010" stroke-width="0.6"/><path d="M-5.0,0 H5.0" stroke="#2e2010" stroke-width="0.3" opacity="0.55"/></g>
<g transform="translate(593.0,204.3) rotate(70)"><path d="M-6.25,0 C-3.75,-2.25 3.75,-2.25 6.25,0 C3.75,2.25 -3.75,2.25 -6.25,0 Z" fill="#deb35c" stroke="#2e2010" stroke-width="0.6"/><path d="M-5.0,0 H5.0" stroke="#2e2010" stroke-width="0.3" opacity="0.55"/></g>
<g transform="translate(596.7,214.6) rotate(70)"><path d="M-6.25,0 C-3.75,-2.25 3.75,-2.25 6.25,0 C3.75,2.25 -3.75,2.25 -6.25,0 Z" fill="#deb35c" stroke="#2e2010" stroke-width="0.6"/><path d="M-5.0,0 H5.0" stroke="#2e2010" stroke-width="0.3" opacity="0.55"/></g>
<g transform="translate(599.0,226.4) rotate(60)"><path d="M-6.0,0 C-3.5999999999999996,-2.25 3.5999999999999996,-2.25 6.0,0 C3.5999999999999996,2.25 -3.5999999999999996,2.25 -6.0,0 Z" fill="#deb35c" stroke="#2e2010" stroke-width="0.6"/><path d="M-4.800000000000001,0 H4.800000000000001" stroke="#2e2010" stroke-width="0.3" opacity="0.55"/></g>
<g transform="translate(556.0,203.0) rotate(20)"><path d="M-6.0,0 C-3.5999999999999996,-2.25 3.5999999999999996,-2.25 6.0,0 C3.5999999999999996,2.25 -3.5999999999999996,2.25 -6.0,0 Z" fill="#deb35c" stroke="#2e2010" stroke-width="0.6"/><path d="M-4.800000000000001,0 H4.800000000000001" stroke="#2e2010" stroke-width="0.3" opacity="0.55"/></g>
<g transform="translate(553.0,216.0) rotate(25)"><path d="M-6.0,0 C-3.5999999999999996,-2.25 3.5999999999999996,-2.25 6.0,0 C3.5999999999999996,2.25 -3.5999999999999996,2.25 -6.0,0 Z" fill="#deb35c" stroke="#2e2010" stroke-width="0.6"/><path d="M-4.800000000000001,0 H4.800000000000001" stroke="#2e2010" stroke-width="0.3" opacity="0.55"/></g>
<g transform="translate(560.0,229.0) rotate(-15)"><path d="M-6.0,0 C-3.5999999999999996,-2.25 3.5999999999999996,-2.25 6.0,0 C3.5999999999999996,2.25 -3.5999999999999996,2.25 -6.0,0 Z" fill="#deb35c" stroke="#2e2010" stroke-width="0.6"/><path d="M-4.800000000000001,0 H4.800000000000001" stroke="#2e2010" stroke-width="0.3" opacity="0.55"/></g>
<g transform="translate(590.0,229.0) rotate(65)"><path d="M-6.0,0 C-3.5999999999999996,-2.25 3.5999999999999996,-2.25 6.0,0 C3.5999999999999996,2.25 -3.5999999999999996,2.25 -6.0,0 Z" fill="#deb35c" stroke="#2e2010" stroke-width="0.6"/><path d="M-4.800000000000001,0 H4.800000000000001" stroke="#2e2010" stroke-width="0.3" opacity="0.55"/></g>
<g transform="translate(575.0,231.0) rotate(-60)"><path d="M-6.0,0 C-3.5999999999999996,-2.25 3.5999999999999996,-2.25 6.0,0 C3.5999999999999996,2.25 -3.5999999999999996,2.25 -6.0,0 Z" fill="#deb35c" stroke="#2e2010" stroke-width="0.6"/><path d="M-4.800000000000001,0 H4.800000000000001" stroke="#2e2010" stroke-width="0.3" opacity="0.55"/></g>
<g transform="translate(563.0,195.0) rotate(-25)"><path d="M-6.0,0 C-3.5999999999999996,-2.25 3.5999999999999996,-2.25 6.0,0 C3.5999999999999996,2.25 -3.5999999999999996,2.25 -6.0,0 Z" fill="#deb35c" stroke="#2e2010" stroke-width="0.6"/><path d="M-4.800000000000001,0 H4.800000000000001" stroke="#2e2010" stroke-width="0.3" opacity="0.55"/></g>
<g transform="translate(587.0,197.0) rotate(55)"><path d="M-6.0,0 C-3.5999999999999996,-2.25 3.5999999999999996,-2.25 6.0,0 C3.5999999999999996,2.25 -3.5999999999999996,2.25 -6.0,0 Z" fill="#deb35c" stroke="#2e2010" stroke-width="0.6"/><path d="M-4.800000000000001,0 H4.800000000000001" stroke="#2e2010" stroke-width="0.3" opacity="0.55"/></g>
<g transform="translate(552.5,209.0) rotate(10)"><path d="M-5.5,0 C-3.3,-2.1875 3.3,-2.1875 5.5,0 C3.3,2.1875 -3.3,2.1875 -5.5,0 Z" fill="#deb35c" stroke="#2e2010" stroke-width="0.6"/><path d="M-4.4,0 H4.4" stroke="#2e2010" stroke-width="0.3" opacity="0.55"/></g>
<g transform="translate(566.0,232.0) rotate(15)"><path d="M-6.0,0 C-3.5999999999999996,-2.25 3.5999999999999996,-2.25 6.0,0 C3.5999999999999996,2.25 -3.5999999999999996,2.25 -6.0,0 Z" fill="#deb35c" stroke="#2e2010" stroke-width="0.6"/><path d="M-4.800000000000001,0 H4.800000000000001" stroke="#2e2010" stroke-width="0.3" opacity="0.55"/></g>
<g transform="translate(583.0,232.5) rotate(-50)"><path d="M-6.0,0 C-3.5999999999999996,-2.25 3.5999999999999996,-2.25 6.0,0 C3.5999999999999996,2.25 -3.5999999999999996,2.25 -6.0,0 Z" fill="#deb35c" stroke="#2e2010" stroke-width="0.6"/><path d="M-4.800000000000001,0 H4.800000000000001" stroke="#2e2010" stroke-width="0.3" opacity="0.55"/></g>
</g>
<g id="diesel">
<rect x="-2.6" y="-1.1" width="5.2" height="2.2" transform="translate(31.2,265.6) rotate(-45)" fill="#e2493a"/>
<path d="M30.2,271 L34.2,265.2 H44.6 L50.2,269 V287.6 Q50.2,288.6 49.2,288.6 H31.2 Q30.2,288.6 30.2,287.6 Z" fill="#b98a82" stroke="#2b2424" stroke-width="0.9" stroke-linejoin="round"/>
<path d="M38.4,267.4 H46 L47.6,270.4 H38.6 Q37.4,268.8 38.4,267.4 Z" fill="#fff" stroke="#2b2424" stroke-width="0.8" stroke-linejoin="round"/>
<rect x="36.3" y="276.5" width="8.5" height="7.2" rx="0.8" fill="#8f8f8f" stroke="#2b2424" stroke-width="0.8"/>
<path d="M33.4,274 L35.4,275.8 M47.2,274 L45.4,275.8 M33.4,286.4 L35.4,284.4 M47.2,286.4 L45.4,284.4" stroke="#2b2424" stroke-width="0.7"/>
</g>
<g id="labor" transform="translate(0,0)" fill="#9b6b2c" stroke="#9b6b2c" stroke-linejoin="round" stroke-linecap="round">
<circle cx="44" cy="298" r="3.3" stroke="none"/>
<path d="M41.2,300.6 L44.6,303.8 L37,312 L30.6,309.4 L32,306.5 Z" stroke-width="2"/>
<path d="M33.6,310 L33.2,316.5 L30,323.5" fill="none" stroke-width="5.6"/>
<path d="M28.8,324.3 H34.6" fill="none" stroke-width="2.6"/>
<path d="M40,311.4 L42.6,321" fill="none" stroke-width="5.2"/>
<path d="M42.6,322.5 H48.4" fill="none" stroke-width="2.9"/>
<path d="M42.8,302.8 L50.6,311.2" fill="none" stroke-width="3.6"/>
<path d="M50.8,311.6 L59.4,318.6" fill="none" stroke-width="1.8"/>
<path d="M61.4,312.2 C62.4,316 60.2,319.8 55.8,320.8" fill="none" stroke-width="1.6"/>
<path d="M36.4,296.2 L38.2,296.8 M35.2,299.6 L36.8,300.4 M49.4,296.4 L51,296.4 M49.6,299.8 L51.2,300.2 M47.8,302.6 L49,303.6" fill="none" stroke-width="1.4"/>
</g>
<g id="sprayer">
<path d="M43.3,342 V336 Q43.3,331.4 45.7,331.4 Q48.1,331.4 48.1,336 V349.6 Q48.1,352.4 50.4,352.4 Q52.7,352.4 52.7,349.6 V343" fill="none" stroke="#55aee6" stroke-width="0.8"/>
<path d="M52.7,343.2 V338" stroke="#555" stroke-width="1.1"/>
<path d="M52.7,338 V332.2 L54.2,330.3" fill="none" stroke="#6a62d0" stroke-width="1"/>
<rect x="29.2" y="339.6" width="3.2" height="2.2" fill="#e8503c"/>
<rect x="42.3" y="338.6" width="2.2" height="3.2" fill="#ee8a2c"/>
<rect x="33" y="339" width="7.4" height="3" rx="0.8" fill="#4f52c8"/>
<rect x="34.4" y="340.2" width="4.6" height="1.6" fill="#e8e6fb"/>
<rect x="28.1" y="341.5" width="17.6" height="5.4" fill="#4f52c8"/>
<rect x="28.9" y="346.5" width="16" height="12" fill="#4f52c8"/>
<rect x="28.1" y="358" width="17.6" height="4.5" fill="#4f52c8"/>
<path d="M34.5,349 L39.5,355 M39.5,349 L34.5,355" stroke="#4346b4" stroke-width="1.2"/>
</g>
<g id="hose">
<path d="M35,382 V372.6 Q35,368.8 38.8,368.8 H45.8" fill="none" stroke="#f4512b" stroke-width="3.1"/>
<path d="M45.4,366.7 L53.2,367.9 V369.9 L45.4,371 Z" fill="#bdbdbd"/>
<path d="M45.6,366 L47,368.8 L45.6,371.6 Z" fill="#d9d9d9"/>
<rect x="29.9" y="381.4" width="21.3" height="2.9" rx="1" fill="#f4512b"/>
<rect x="27.4" y="384.5" width="26.6" height="3.1" rx="1.4" fill="#f4512b"/>
<rect x="26.3" y="387.9" width="28.8" height="2.9" rx="1.3" fill="#f7694c"/>
</g>
</svg>
</body>
</html>
